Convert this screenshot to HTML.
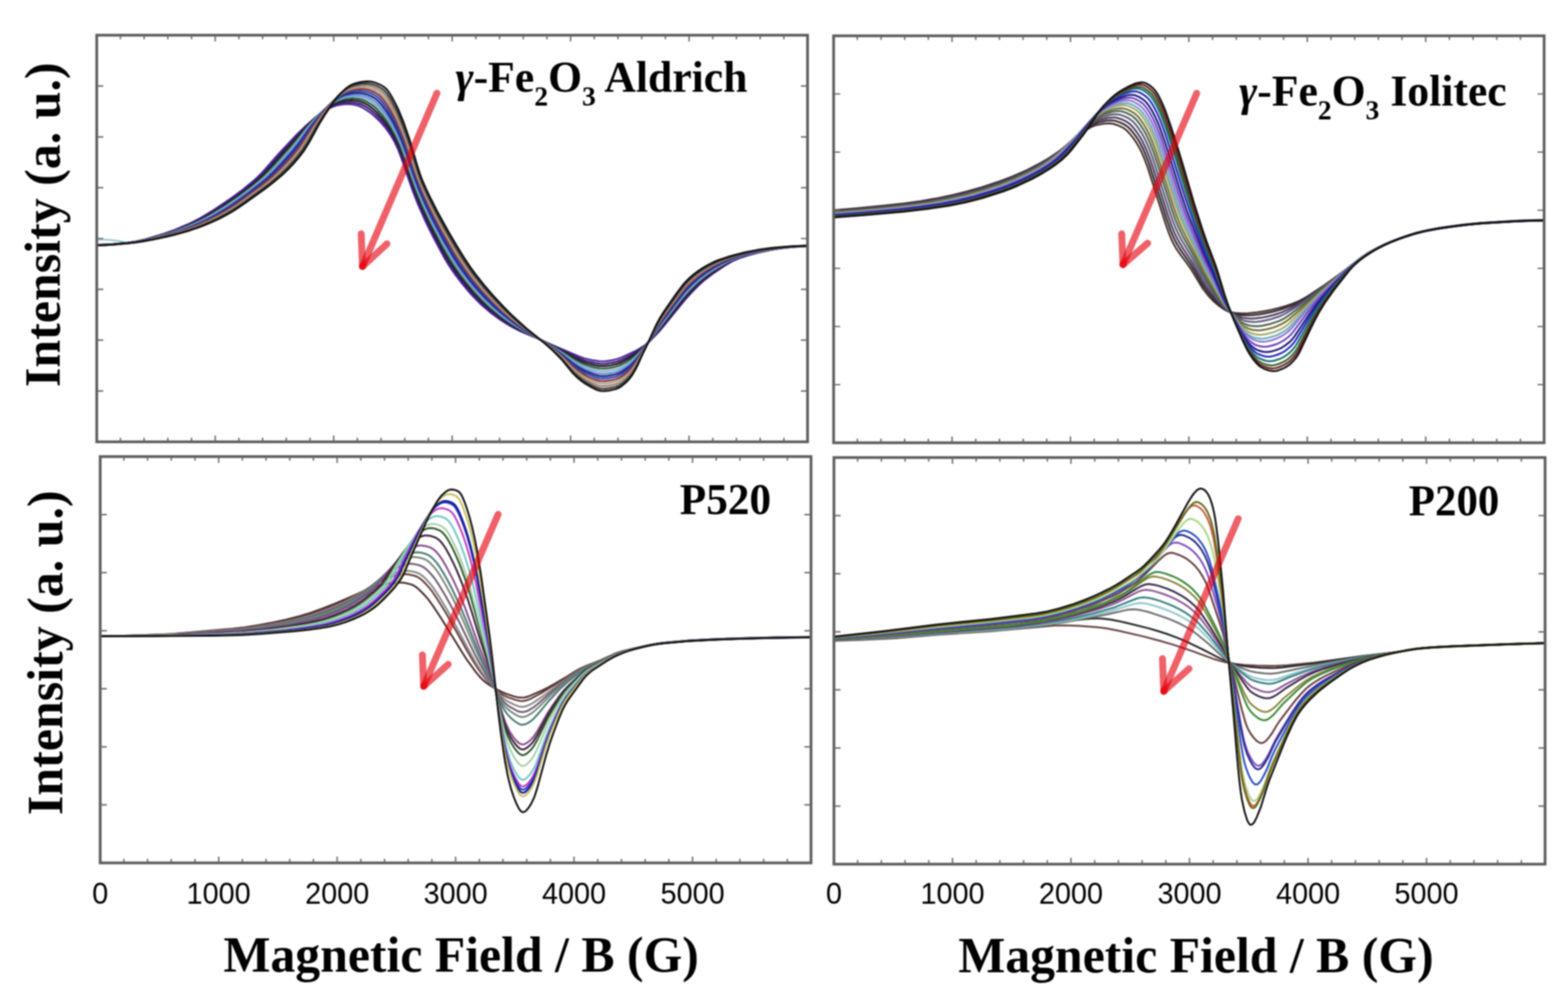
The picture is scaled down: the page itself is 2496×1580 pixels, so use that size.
<!DOCTYPE html>
<html><head><meta charset="utf-8"><title>EPR spectra</title>
<style>html,body{margin:0;padding:0;background:#fff;}svg{display:block;}#wrap{filter:blur(1px);}</style></head><body>
<div id="wrap"><svg width="2496" height="1580" viewBox="0 0 2496 1580">
<rect width="2496" height="1580" fill="#fff"/>
<defs>
<clipPath id="clipTL"><rect x="154" y="56" width="1131.5" height="647"/></clipPath>
<clipPath id="clipTR"><rect x="1327" y="57" width="1131" height="647.5"/></clipPath>
<clipPath id="clipBL"><rect x="159.5" y="726.5" width="1131.5" height="646.5"/></clipPath>
<clipPath id="clipBR"><rect x="1327.5" y="728" width="1132" height="647"/></clipPath>
</defs>
<path d="M155 381.5 C170 380.5 186 381.5 207 387.5" fill="none" stroke="#8cc8cc" stroke-width="2.6"/>
<g fill="none" stroke-width="3.0" stroke-linejoin="round" clip-path="url(#clipTL)">
<path d="M154 389.5l22 -0.8l28 -2.6l12 -1.8l14 -3.2l30 -8.9l18 -6.4l22 -9.3l10 -4.8l10 -5.3l20 -12.1l26 -17.5l20 -14.7l16 -13.1l8 -7.2l8 -8l26 -29.6l28 -29.7l16 -15.4l16 -13.7l6 -4.4l8 -5.3l6 -3.3l4 -1.8l6 -2.2l6 -1.5l6 -0.8l8 -0.5l8 0.6l6 1.3l4 1.3l6 2.9l10 6.5l8 6.5l10 9.8l8 9.3l8 11.4l6 10.3l6 12.9l6 16.2l16 46.5l10 25.6l12 26.9l12 24.3l16 30l6 10.2l6 9.4l8 11.3l8 10.4l10 12.2l8 9l14 14.2l14 12.1l16 11.8l8 5.2l10 5.9l14 7.2l22 9.2l34 15.2l36 15.2l10 3.7l12 2.8l12 1.8l6 0.2l4 -0.2l10 -1.5l8 -1.8l8 -2.8l20 -9.4l6 -3.2l6 -3.6l6 -4.3l6 -5.2l14 -14.2l8 -9.3l34 -41.8l12 -13.3l10 -10.2l10 -8.9l12 -9.2l20 -13.5l12 -7.1l12 -5.1l14 -4.5l16 -4.2l22 -4.7l12 -2l16 -1.7l14 -1.1l13.5 -0.4" stroke="#5028a0"/>
<path d="M154 389.6l22 -0.8l28 -2.6l14 -2.1l14 -3.2l28 -8.1l20 -6.9l12 -4.8l12 -5.3l10 -4.8l10 -5.3l22 -13.3l24 -16.2l20 -14.8l18 -14.9l8 -7.4l6 -6.2l24 -27.1l36 -39.3l16 -15.6l12 -10.3l8 -5.7l6 -3.8l4 -2.1l6 -2.5l6 -1.9l4 -0.8l8 -0.9l6 -0.2l8 0.9l8 2.2l4 1.7l4 2.2l8 5.4l8 6.8l10 10.5l8 10l6 8.8l6 10.3l6 12.4l6 15.7l16 46.4l6 16.1l12 28.2l14 29.2l16 30.5l8 14l6 9.6l6 8.8l10 13.4l8 10l10 11.6l14 14.5l14 12.5l16 12.2l8 5.5l10 6.2l14 7.6l24 10.8l64 30.8l8 3.6l8 3l14 3.4l10 1.4l8 -0.1l10 -1.5l8 -1.8l8 -3l16 -8.2l10 -6.2l6 -4.4l6 -5l6 -5.8l6 -6.4l12 -13.7l38 -47.2l10 -11l10 -10.1l10 -9l12 -9.2l20 -13.2l12 -7l6 -2.8l6 -2.4l14 -4.6l16 -4.2l22 -4.6l12 -2.1l16 -1.7l16 -1.3l13.5 -0.5" stroke="#401a78"/>
<path d="M154 389.7l22 -0.8l30 -2.8l14 -2.2l16 -3.8l28 -8l22 -7.7l12 -4.9l12 -5.4l10 -5l10 -5.5l22 -13.5l24 -16.4l20 -15.1l18 -15.2l8 -7.8l8 -8.6l32 -35.7l26 -29.7l14 -14.2l6 -5.6l6 -5l6 -4.5l6 -4l4 -2.2l6 -2.6l6 -1.9l4 -0.9l8 -1l6 -0.2l8 0.8l8 2.2l4 1.7l4 2.1l8 5.5l8 7.2l8 8.7l8 10.2l6 9l8 14.1l6 12.9l4 10.4l18 52l6 15.8l12 27.8l14 28.8l16 30.2l8 13.8l6 9.5l8 11.5l8 10.7l8 10l10 11.6l14 14.6l14 12.6l16 12.5l16 10.8l14 8.1l34 16.7l30 15.7l24 13.1l10 4.8l8 3l12 3.1l8 1.4l8 0.2l10 -1.2l10 -2.2l6 -2.2l12 -6.3l10 -6.3l6 -4.6l6 -5.3l6 -5.7l6 -6.4l18 -21.7l36 -45.5l8 -9.1l10 -10.3l12 -11l12 -9.2l16 -10.5l16 -9.3l10 -4.6l14 -4.8l16 -4.3l16 -3.5l16 -3l10 -1.4l24 -2.2l17.5 -0.7" stroke="#202020"/>
<path d="M154 389.7l22 -0.9l30 -2.7l14 -2.2l18 -4.1l28 -7.9l22 -7.6l12 -4.8l12 -5.3l10 -4.9l12 -6.5l22 -13.5l22 -15.1l22 -16.6l10 -8.2l8 -7.1l14 -14.2l28 -31.1l8 -9.2l18 -22.1l8 -9.1l12 -12.6l10 -9.3l6 -4.7l6 -4.2l4 -2.3l6 -2.7l6 -2l6 -1.3l6 -0.7l6 -0.3l8 0.7l8 2.1l6 2.6l8 5l4 3.2l4 3.8l8 8.9l8 10.4l6 9.1l8 14.2l6 12.7l6 15.6l14 40.9l8 21.6l12 28l12 25l18 34.1l8 14l6 9.7l8 11.8l8 10.9l8 10.2l10 11.9l14 14.9l14 13l16 13l16 11.3l16 9.6l24 12.4l26 14.3l14 8.1l24 14.5l10 4.9l8 3l10 2.8l8 1.6l8 0.3l8 -0.9l10 -2.1l6 -2l10 -5.1l10 -6.4l6 -4.8l6 -5.6l14 -15.2l52 -66.8l8 -9.5l10 -10.6l12 -11.3l12 -9.5l12 -8.1l18 -10.6l10 -5l12 -4.6l16 -4.8l16 -3.8l20 -3.8l12 -1.8l24 -2.2l19.5 -0.9" stroke="#2a5a3a"/>
<path d="M154 389.8l24 -1l32 -3.1l16 -2.8l20 -4.9l26 -7.4l12 -4.1l12 -4.5l12 -5l10 -4.6l10 -5.1l12 -6.7l20 -12.3l22 -15.2l22 -16.7l10 -8.2l8 -7.1l14 -14.2l28 -31.1l8 -9.7l16 -20.8l12 -14.1l12 -12.9l8 -7.4l6 -4.7l6 -4.1l4 -2.3l4 -1.8l6 -2l6 -1.4l6 -0.8l6 -0.3l8 0.7l8 2.1l4 1.6l4 2l6 3.9l6 5.2l8 8.9l8 10.5l6 9.2l8 14.4l8 17.2l4 10.4l14 41.1l8 21.8l10 23.8l14 29.5l18 34.2l14 24l8 12.1l8 11.2l8 10.5l10 12.1l14 15.3l14 13.4l16 13.4l16 11.8l16 10.2l28 15.4l22 12.9l14 8.8l16 11l8 5l10 5.3l10 3.9l10 3l8 1.4l6 0.1l8 -0.9l10 -2.1l6 -2l8 -4.2l10 -6.6l6 -5.1l6 -6l14 -16.5l16 -21.9l22 -29.1l18 -23.1l10 -11.4l12 -11.8l12 -10.1l12 -8.5l16 -9.6l14 -7.4l10 -4.2l14 -4.6l18 -4.5l20 -3.9l16 -2.5l26 -2.4l19.5 -0.9" stroke="#80b0d0"/>
<path d="M154 389.9l12 -0.3l14 -0.9l32 -3.2l18 -3.3l26 -6.4l12 -3.3l12 -3.8l12 -4.2l12 -4.7l10 -4.2l10 -4.7l10 -5.2l12 -6.7l20 -12.5l22 -15.5l24 -18.5l8 -6.7l8 -7.4l14 -14.4l22 -24.4l10 -12.3l16 -21.8l8 -10.1l14 -16.2l6 -6.3l4 -3.7l6 -4.9l6 -4.3l4 -2.4l4 -1.9l6 -2.1l6 -1.5l6 -0.9l6 -0.4l8 0.6l8 2l8 3.5l6 3.8l4 3.4l6 6.4l8 10.3l6 8.8l4 6.7l6 11.2l8 17.2l6 15.6l12 35.8l10 27.1l12 27.7l12 24.8l18 33.8l14 23.8l8 12.1l8 11.2l8 10.5l10 12.1l14 15.3l14 13.5l16 13.7l16 12.2l14 9.3l32 18.8l18 11.3l14 9.4l16 12.1l8 5.4l6 3.5l6 3.1l12 4.6l8 2.4l4 0.8l4 0.4l8 -0.4l10 -1.7l6 -1.5l6 -2.5l8 -4.7l8 -5.8l6 -5.6l8 -9.3l14 -18.5l14 -20.7l14 -19.2l22 -28.9l10 -12.1l10 -10.3l12 -10.8l12 -9l12 -7.6l16 -8.7l12 -5.6l14 -4.9l18 -4.8l20 -4.1l22 -3.5l26 -2.3l19.5 -0.9" stroke="#6a88d8"/>
<path d="M154 390l12 -0.3l14 -0.9l32 -3.1l20 -3.6l28 -6.8l12 -3.4l12 -3.8l12 -4.2l12 -4.6l10 -4.3l10 -4.7l10 -5.2l12 -6.7l10 -6.1l12 -7.9l24 -17.2l22 -17.2l8 -6.9l8 -7.6l16 -16.7l18 -20.3l8 -10.2l16 -22.9l10 -13.2l14 -16.7l6 -6.3l4 -3.7l6 -4.9l6 -4.3l4 -2.3l4 -1.8l6 -2l6 -1.4l6 -0.8l6 -0.3l6 0.5l8 2l8 3.4l6 3.7l4 3.4l6 6.6l8 10.8l6 9.3l4 7l6 11.8l8 18l6 16.2l12 36.3l8 21.6l10 23.5l12 25.2l18 34.2l16 27.6l8 12.3l8 11.4l8 10.7l10 12.4l14 15.7l14 13.9l16 14.2l16 12.7l14 9.8l34 21.1l16 10.6l14 10.1l18 14.7l8 5.6l6 3.6l6 3.1l14 5.4l8 2.1l6 0.5l8 -0.7l10 -1.9l6 -1.8l6 -2.9l8 -5.3l6 -4.8l6 -6.2l6 -7.5l16 -23l12 -19.1l8 -11.6l16 -21.9l20 -25.9l10 -10.9l12 -11.1l12 -9.3l12 -7.8l16 -8.7l14 -6.4l14 -5l18 -4.9l18 -3.7l24 -3.8l26 -2.4l21.5 -1" stroke="#1a2470"/>
<path d="M154 390.1l12 -0.3l14 -0.9l20 -1.8l14 -1.6l20 -3.7l30 -7.2l12 -3.4l12 -3.8l12 -4.2l12 -4.7l10 -4.3l10 -4.8l22 -11.9l10 -6.1l12 -8l28 -20.3l20 -15.8l8 -7.1l8 -7.8l16 -16.9l14 -16.1l8 -10.4l18 -26.8l10 -13.5l14 -17.2l4 -4.4l6 -5.7l10 -7.9l4 -2.4l4 -1.9l6 -2l6 -1.4l6 -0.9l6 -0.3l6 0.4l8 1.9l8 3.3l6 3.6l4 3.4l6 6.9l6 8.4l6 9.3l8 14.8l10 22.3l6 15.9l12 36.9l8 22l10 23.6l12 25.3l18 34.2l10 17.7l8 13.3l8 12.3l8 11.5l8 10.7l8 10l14 16l14 14.3l16 14.7l16 13.2l16 11.7l32 20.8l16 11.2l14 10.8l18 15.9l8 5.9l6 3.8l6 3.3l14 5.8l8 2.3l6 0.5l10 -1l10 -2.1l4 -1.4l6 -3.1l8 -5.6l6 -5.1l6 -6.7l6 -8.2l16 -24.9l12 -20.3l10 -15l12 -16.7l20 -26.4l8 -9.2l12 -11.5l12 -9.7l12 -8l14 -7.8l10 -4.8l8 -3.4l16 -5.5l16 -4.3l20 -4l24 -3.6l26 -2.3l21.5 -1" stroke="#2a44c0"/>
<path d="M154 390.1l12 -0.4l14 -0.9l20 -1.8l14 -1.6l22 -4l30 -7l12 -3.3l14 -4.4l12 -4.2l12 -4.7l20 -9.2l12 -6.3l10 -5.7l12 -7.5l12 -8.1l30 -22l18 -14.5l8 -7.3l8 -7.9l16 -17.1l12 -14.3l8 -11.1l16 -25.1l10 -14.1l14 -18l4 -4.6l6 -5.9l10 -8.2l4 -2.5l4 -2l6 -2.1l6 -1.5l6 -1l6 -0.4l6 0.4l8 1.9l8 3.3l6 3.5l4 3.4l4 4.5l6 8.3l6 9.4l8 14.7l10 22.5l8 21.5l12 37.6l6 16.6l8 19.3l12 25.7l8 15.9l10 18.7l10 17.9l10 16.9l8 12.6l8 11.7l8 11l8 10.2l14 16.4l14 14.7l16 15.2l16 13.8l16 12.2l34 23.3l14 10.4l14 11.5l18 17.2l8 6.3l6 4l6 3.5l8 3.7l8 3.2l4 1.2l4 0.8l6 0.2l8 -0.9l10 -2.2l6 -2.3l4 -2.3l6 -4.2l6 -5.1l6 -6.6l8 -11.6l16 -26.8l12 -21.5l6 -9.5l12 -17.4l20 -27.1l10 -12.1l10 -9.9l12 -10l12 -8.3l14 -8l8 -3.9l10 -4.3l16 -5.6l18 -4.9l20 -4l24 -3.5l28 -2.5l21.5 -1" stroke="#8a3030"/>
<path d="M154 390.2l26 -1.2l20 -1.7l14 -1.6l12 -1.9l12 -2.3l32 -7.4l24 -7.1l12 -4.1l12 -4.6l10 -4.3l12 -5.7l12 -6.3l10 -5.7l12 -7.6l12 -8.2l34 -25.1l10 -8l8 -7l16 -15.7l14 -15.4l10 -12.5l8 -11.9l14 -22.9l12 -17.5l14 -18.4l4 -4.6l6 -5.9l8 -6.7l4 -2.7l4 -2.1l6 -2.2l6 -1.6l6 -1.1l6 -0.5l6 0.3l8 1.8l8 3.2l6 3.5l4 3.4l4 4.6l6 8.6l6 9.9l8 15.4l10 23.6l6 16.3l12 38.2l6 17.3l8 19.5l10 21.6l8 16.1l10 18.9l20 35.2l8 13l10 15.1l8 11.2l8 10.4l14 16.7l14 15.1l16 15.7l16 14.3l18 14.3l32 22.9l14 10.9l14 12.2l16 16.4l4 3.7l6 4.8l8 5.5l6 3.4l10 4.7l6 2.4l6 1.4l6 0.2l8 -0.9l10 -2.2l6 -2.4l4 -2.3l6 -4.4l6 -5.4l6 -7.1l6 -9.1l18 -32.2l12 -22.8l6 -9.9l10 -14.9l18 -24.8l10 -12.9l4 -4.6l6 -6.1l12 -10.4l12 -8.5l14 -8.2l8 -3.9l8 -3.5l8 -3.1l10 -3.4l20 -5.5l22 -4.4l24 -3.4l28 -2.4l21.5 -1" stroke="#b0a088"/>
<path d="M154 390.3l26 -1.2l34 -3.3l24 -4.1l32 -7.1l12 -3.2l14 -4.2l12 -4.1l12 -4.6l10 -4.3l12 -5.7l12 -6.2l10 -5.7l12 -7.6l12 -8.2l36 -26.5l10 -8l8 -7l16 -15.7l12 -13.3l10 -12.7l8 -12.2l16 -27.1l10 -15.1l14 -19.1l4 -4.8l6 -6.1l6 -5.3l4 -3.1l4 -2.5l4 -1.9l6 -2l6 -1.5l6 -1l6 -0.3l6 0.5l6 1.5l8 3.2l6 3.4l4 3.3l4 4.6l4 5.8l6 9.9l8 15.3l4 9l6 14.9l8 22.2l12 39l4 11.8l8 19.9l10 21.5l8 16.1l10 18.9l20 35.2l10 16.4l8 12.2l8 11.5l8 10.6l14 17.1l14 15.5l16 16.2l16 14.9l20 16.6l30 22.4l14 11.5l14 12.9l16 17.5l4 4l6 5.1l6 4.5l6 3.8l10 5.1l8 3.5l6 1.5l6 0.2l8 -0.9l10 -2.2l6 -2.4l4 -2.4l6 -4.6l6 -5.6l6 -7.5l6 -9.8l10 -19.5l8 -14.8l12 -24l8 -13.5l10 -14.9l20 -27.6l10 -12.2l6 -6l6 -5.3l6 -4.8l8 -5.7l14 -8.4l8 -4l8 -3.5l18 -6.4l22 -6.1l22 -4.3l24 -3.3l28 -2.4l23.5 -1.2" stroke="#9a8070"/>
<path d="M154 390.4l14 -0.5l14 -0.9l22 -2l12 -1.4l26 -4.5l18 -3.8l14 -3.3l14 -3.8l12 -3.7l12 -4.1l10 -3.8l12 -5.1l12 -5.7l12 -6.2l10 -5.7l10 -6.4l12 -8.2l26 -18.8l14 -10.6l16 -13.5l8 -7.6l8 -8.2l10 -11.2l10 -12.8l8 -12.5l16 -28.1l10 -15.6l8 -11.6l8 -10.8l4 -4.7l6 -6l8 -6.9l4 -2.7l4 -2l6 -2.1l6 -1.5l6 -1l6 -0.4l6 0.5l6 1.4l8 3.1l6 3.3l4 3.2l4 4.7l4 5.9l4 6.8l6 11.1l4 8.4l8 19.6l6 16.4l4 12l14 46l6 16l8 17.9l8 16.5l10 19.4l10 18.3l10 17.5l10 16.8l10 15.9l10 14.8l8 10.8l14 17.4l14 15.9l16 16.8l16 15.5l10 8.9l12 10.1l28 21.7l14 12l14 13.5l16 18.6l4 4.2l6 5.4l6 4.7l6 4l10 5.4l8 3.7l6 1.6l6 0.3l8 -0.9l10 -2.2l6 -2.5l4 -2.5l6 -4.8l6 -5.9l4 -5l6 -9.7l20 -40.3l12 -25.2l6 -10.7l8 -12.6l22 -31.1l10 -12.7l6 -6.3l6 -5.4l6 -4.9l8 -5.7l8 -5l8 -4.4l14 -6.4l8 -2.9l10 -3.2l24 -6.4l22 -4.2l22 -2.9l28 -2.4l25.5 -1.3" stroke="#3a3a3a"/>
<path d="M154 390.5l12 -0.4l16 -1l22 -2l12 -1.4l12 -1.8l16 -2.9l18 -3.7l14 -3.3l26 -7.3l12 -4l10 -3.8l12 -5l12 -5.6l12 -6.1l10 -5.7l10 -6.4l12 -8.3l30 -21.6l12 -9.1l16 -13.5l8 -7.6l8 -8.3l10 -11.6l8 -10.6l8 -12.8l16 -29.2l10 -16.2l8 -12l8 -11.3l4 -4.9l6 -6.3l8 -7.1l4 -2.8l4 -2.2l4 -1.5l8 -2.2l6 -1.1l6 -0.5l6 0.4l6 1.4l8 3.1l6 3.2l4 3.1l2 2.1l4 5.4l4 6.6l6 11.2l4 8.2l8 19.5l10 28.6l12 40.7l4 12.6l4 10.9l6 13.8l8 16.6l10 19.6l18 32.6l14 23.8l10 16.2l10 15.1l8 11.1l14 17.8l14 16.3l16 17.3l16 16.1l22 19.9l28 22.6l14 12.5l14 14.2l16 19.7l4 4.4l6 5.6l6 4.9l6 4.2l10 5.7l8 3.9l6 1.7l6 0.3l8 -0.9l10 -2.3l6 -2.6l4 -2.6l6 -5l6 -6.2l4 -5.3l6 -10.3l4 -8.1l8 -18l8 -16.5l12 -26.5l6 -11.1l6 -9.8l20 -29l12 -15.9l4 -4.5l6 -5.9l6 -5.1l8 -6l8 -5.2l8 -4.5l8 -4l8 -3.4l16 -5.3l26 -6.8l20 -3.9l22 -3l30 -2.5l27.5 -1.4" stroke="#111111"/>
</g>
<g fill="none" stroke-width="3.0" stroke-linejoin="round" clip-path="url(#clipTR)">
<path d="M1327 334.4l36 -2.9l46 -4.4l30 -3.3l26 -3.5l24 -4.2l28 -5.9l22 -5.4l24 -6.9l28 -9.2l20 -7.6l24 -10.6l20 -10.3l16 -9.4l16 -10.7l10 -7.6l16 -14.2l6 -5l8 -5.5l10 -5.7l4 -1.7l4 -1.3l12 -2.4l8 -0.5l4 0.3l4 0.8l6 1.9l6 2.6l4 2.2l4 3.1l4 4l6 7.3l6 8.5l4 6.8l4 8l4 9l6 15.8l28 88.3l6 17l4 9.7l4 8.1l4 6.8l6 8.8l10 13.1l6 8.5l20 32.8l8 10.3l8 8.6l8 6.9l10 7l6 3.2l4 1.3l8 1.2l10 0.6l10 -0.3l14 -1.3l10 -1.6l12 -2.4l12 -2.8l12 -3.4l10 -3.4l10 -4.1l6 -3l8 -4.7l30 -19.8l28 -20.1l28 -21.8l12 -8l14 -7.5l16 -7.2l22 -8.4l18 -6l16 -4.3l22 -4.3l24 -3.6l30 -3.6l20 -1.7l46 -2.8l26 -1.1l25 -0.4" stroke="#4a2e2e"/>
<path d="M1327 335.2l38 -3l48 -4.6l30 -3.4l26 -3.6l26 -4.7l28 -6.1l22 -5.6l24 -7.1l26 -8.8l20 -7.8l22 -10l20 -10.6l14 -8.7l16 -11.3l12 -9.6l16 -14.7l8 -6.8l8 -5.5l10 -5.7l8 -3l12 -2.6l8 -0.5l4 0.4l4 0.9l6 2.1l6 2.8l4 2.4l4 3.3l4 4.2l6 7.7l4 5.8l4 6.7l4 7.9l4 9l6 15.6l28 88.2l6 17.1l4 9.8l4 8.3l4 7.1l6 9.3l14 20.1l6 9.9l10 17.5l6 9.5l8 10.6l8 9.1l8 7.8l10 8l6 3.4l10 3.5l8 1.8l8 0.5l10 -0.3l10 -1l10 -1.7l12 -2.6l10 -2.6l8 -2.6l12 -4.7l10 -4.5l8 -4.3l8 -4.9l28 -19.1l32 -23.4l26 -20.3l12 -8.1l14 -7.5l14 -6.4l18 -7.1l20 -7l18 -5.1l20 -4.1l24 -3.8l30 -3.7l22 -2l44 -2.7l30 -1.3l25 -0.4" stroke="#2e2e2e"/>
<path d="M1327 336l38 -3l50 -4.8l30 -3.4l26 -3.6l28 -5l28 -6.2l24 -6.3l24 -7.3l24 -8.3l20 -8.1l22 -10.4l18 -9.9l14 -9.2l18 -13.6l10 -8.5l16 -15.3l10 -8.6l8 -5.6l8 -4.7l8 -3.4l12 -3l8 -0.9l4 0.2l4 0.7l6 1.9l6 2.7l4 2.3l4 3.1l4 4.1l6 7.6l6 9l4 7.1l6 12.9l6 15.4l6 18.1l22 70l6 17.3l4 10l4 8.5l4 7.4l6 9.8l14 21.5l16 28.5l6 9.6l8 10.9l10 12.2l8 8.4l8 6.9l4 2.6l8 4.5l8 3.9l4 1.3l4 0.8l10 0.8l8 -0.3l8 -1l10 -1.9l10 -2.5l8 -2.4l6 -2.2l8 -3.6l10 -5.1l12 -6.8l14 -9.4l32 -23.3l26 -19.7l24 -18.7l10 -6.9l12 -6.8l14 -6.7l16 -6.6l20 -7.2l20 -6l18 -4l24 -4.1l32 -4.2l24 -2.3l42 -2.7l32 -1.4l27 -0.5" stroke="#503a60"/>
<path d="M1327 336.9l40 -3.1l50 -4.8l32 -3.6l26 -3.7l28 -5.1l28 -6.2l24 -6.4l26 -8.1l24 -8.7l20 -8.5l20 -9.8l10 -5.5l8 -4.9l14 -9.9l16 -12.9l10 -9l16 -16l10 -9l8 -6l8 -5l6 -3l4 -1.6l12 -3.3l8 -1l4 0.1l4 0.7l6 2l6 2.8l4 2.4l4 3.2l4 4.3l4 5.1l6 8.9l4 6.9l4 8.1l4 9.3l6 16.1l26 82.2l6 17.6l4 10.3l4 8.9l6 11.5l16 26.6l16 29.5l8 13.4l10 14.3l10 13.2l8 9.1l6 5.5l14 10.5l4 2.6l4 2l4 1.4l4 0.9l4 0.6l6 0.4l6 -0.2l6 -0.7l8 -1.5l8 -1.9l14 -4.6l10 -4.8l18 -11l14 -9.7l34 -26l50 -38.9l14 -10l12 -6.9l14 -6.8l14 -5.8l18 -6.6l20 -6.3l18 -4.3l24 -4.3l32 -4.3l26 -2.6l40 -2.6l34 -1.6l29 -0.6" stroke="#5a5a78"/>
<path d="M1327 337.9l42 -3.3l52 -4.9l32 -3.6l26 -3.7l28 -5.1l28 -6.3l26 -7.2l26 -8.4l22 -8.2l20 -8.8l12 -5.9l10 -5.4l8 -4.7l8 -5.2l14 -10.6l16 -13.8l10 -9.7l16 -16.7l8 -7.5l8 -6.4l8 -5.3l6 -3.3l4 -1.8l6 -2.1l6 -1.7l6 -1.2l4 -0.4l4 0.1l4 0.7l6 2.1l6 3l4 2.5l4 3.4l4 4.5l4 5.4l6 9.3l4 7.3l6 13.2l6 15.8l6 18.2l22 70l6 17.3l4 10l8 16.7l16 28.6l14 27.1l8 14.2l18 27.6l8 11l6 6.9l16 15.3l4 3.5l4 2.9l6 2.9l4 1.3l4 0.9l8 0.7l4 -0.1l6 -0.7l14 -3.1l12 -4.1l6 -2.7l4 -2.2l8 -5.4l18 -13.4l64 -52.1l26 -20.2l12 -8.8l10 -6.4l14 -7.3l14 -6.2l16 -6.2l22 -7.4l18 -4.8l24 -4.6l28 -4l30 -3.4l34 -2.4l42 -2.2l33 -0.7" stroke="#506050"/>
<path d="M1327 338.7l42 -3.2l54 -5.1l32 -3.6l28 -4.1l30 -5.6l26 -6l26 -7.3l26 -8.5l22 -8.4l20 -9.1l20 -10.5l8 -4.8l8 -5.3l12 -9.3l18 -16.2l10 -10.1l16 -17.4l8 -7.7l8 -6.7l10 -6.8l10 -5.1l6 -2.2l6 -1.8l6 -1.2l4 -0.4l4 0.1l4 0.8l6 2.2l6 3.2l4 2.7l4 3.7l4 4.8l6 8.8l4 6.8l4 7.8l6 14l6 16.5l26 82.3l6 17.5l4 10.3l4 9.1l6 12.3l14 26.4l16 31.9l8 14l16 26.4l8 11.9l4 5l20 22.3l6 5.2l4 2.4l4 2l4 1.4l4 0.9l8 0.7l4 -0.2l6 -0.9l8 -1.8l6 -1.7l6 -2.2l6 -2.7l8 -4.6l6 -4.6l14 -12l34 -30l34 -29.1l30 -23.5l12 -8.5l12 -7.1l14 -6.9l16 -6.7l24 -8.5l20 -5.7l22 -4.5l26 -4l30 -3.6l26 -2.1l52 -3l39 -1" stroke="#707038"/>
<path d="M1327 339.5l44 -3.4l54 -5.1l32 -3.7l28 -4.1l28 -5.2l26 -6l28 -7.9l26 -8.6l22 -8.6l20 -9.2l20 -10.7l8 -4.9l8 -5.4l12 -9.7l18 -16.9l10 -10.5l16 -18.1l8 -8l8 -7l10 -7.2l6 -3.5l6 -2.8l6 -2.3l6 -1.8l6 -1.2l4 -0.4l4 0.2l4 0.9l4 1.5l6 3.1l4 2.6l4 3.4l4 4.6l4 5.6l6 9.9l4 7.7l6 13.8l6 16.4l28 88.5l6 17.1l4 10l8 17.6l12 24l16 33.2l6 11.2l20 35.5l6 9.7l4 5.6l8 10l12 15.9l6 6.5l6 4.6l6 3.4l6 1.9l8 1l4 -0.1l6 -0.9l12 -3.1l10 -4l6 -3.2l4 -2.6l4 -3.2l4 -3.7l30 -29.9l16 -15.2l32 -29l10 -8.5l22 -17.1l16 -11.1l8 -4.6l8 -4.1l18 -8l24 -8.8l20 -6l10 -2.4l12 -2.4l26 -4.2l32 -4l24 -2.1l54 -3.1l22 -0.8l19 -0.3" stroke="#a8a868"/>
<path d="M1327 340.2l44 -3.3l56 -5.2l34 -3.9l28 -4.1l28 -5.2l26 -6.1l30 -8.7l24 -8.2l20 -8l20 -9.3l20 -10.9l8 -5l8 -5.5l12 -9.9l18 -17.5l10 -10.9l16 -18.8l8 -8.3l10 -8.8l8 -5.8l6 -3.6l6 -3l6 -2.4l6 -2l6 -1.4l4 -0.5l4 0l4 0.7l6 2.3l6 3.4l4 2.9l4 3.9l4 5.1l4 6.1l4 6.8l4 7.7l6 13.9l6 16.4l28 88.6l6 17.3l4 10.2l8 18.2l26 55.3l30 56.9l6 9.6l8 11.1l10 14.8l6 8l4 4.2l6 4.9l6 3.6l6 2l8 1.1l4 -0.1l6 -0.9l12 -3.3l4 -1.5l6 -2.9l8 -4.9l4 -3.2l4 -3.9l28 -30.7l14 -14.4l14 -13.6l30 -27.7l22 -17.4l16 -11.3l6 -3.7l8 -4.4l8 -3.9l10 -4.4l12 -4.8l12 -4.3l12 -3.9l10 -2.9l20 -4.6l26 -4.4l32 -4.1l26 -2.4l56 -3.3l22 -0.8l19 -0.3" stroke="#6aaac0"/>
<path d="M1327 340.9l44 -3.3l56 -5.2l34 -3.9l30 -4.4l28 -5.2l26 -6.2l16 -4.5l16 -4.9l24 -8.4l22 -9.1l20 -9.8l10 -5.5l10 -6l8 -5.3l6 -4.5l12 -10.6l16 -16.2l10 -11.2l16 -19.4l6 -6.5l10 -9.4l10 -7.7l6 -3.8l6 -3.1l8 -3.4l6 -2l6 -1.4l4 -0.4l4 0.1l4 0.9l4 1.6l6 3.3l4 2.8l4 3.7l4 5l4 6.1l6 10.6l4 8.3l4 9.6l6 16.4l8 24.6l20 64l4 11.9l6 16.1l8 18.9l24 53.2l16 31.6l10 20.9l6 11.6l4 6.8l20 31.3l6 8.3l4 4.3l6 5.2l6 3.7l4 1.5l4 1l4 0.6l4 0.2l4 -0.3l6 -1.2l6 -1.7l6 -2.1l8 -4l8 -5.4l4 -3.5l4 -4.3l26 -31.2l12 -13.3l16 -16.4l30 -28.9l18 -14.6l18 -13l14 -8.4l8 -4.1l10 -4.6l12 -4.9l12 -4.4l22 -7l20 -4.7l26 -4.5l34 -4.4l26 -2.4l56 -3.3l22 -0.8l19 -0.3" stroke="#8a78d0"/>
<path d="M1327 341.7l46 -3.5l58 -5.3l34 -3.9l30 -4.5l28 -5.3l26 -6.3l30 -8.9l12 -4l12 -4.4l22 -9.2l20 -9.9l10 -5.5l10 -6.1l8 -5.4l6 -4.5l6 -5.1l6 -5.7l18 -19l8 -9.4l16 -20.2l6 -6.8l6 -6l6 -5.5l10 -7.7l6 -3.7l6 -3.1l8 -3.5l6 -2.1l6 -1.4l4 -0.4l4 0.2l4 1l4 1.7l6 3.5l4 3l4 4l4 5.4l4 6.5l4 7.3l4 8.3l6 14.7l6 17.1l28 89l4 11.8l6 16.1l8 19.5l20 46.5l16 33.3l12 27l6 12.2l24 41.4l4 6.1l4 5.1l4 4.2l4 3.7l6 4l4 1.6l4 1.1l4 0.8l4 0.3l4 -0.3l6 -1.2l6 -1.8l6 -2.2l8 -4.3l8 -5.9l4 -3.9l4 -4.8l24 -32.2l12 -14.7l18 -19.7l28 -28.3l6 -5.4l10 -8.1l10 -7.6l8 -5.6l14 -8.7l16 -8.1l12 -5.1l12 -4.6l12 -4.1l12 -3.7l20 -4.9l26 -4.6l34 -4.5l26 -2.4l56 -3.3l22 -0.8l21 -0.3" stroke="#7040c0"/>
<path d="M1327 342.5l46 -3.4l58 -5.3l36 -4.2l30 -4.5l28 -5.3l26 -6.4l32 -9.6l12 -4.1l12 -4.6l20 -8.5l20 -10l10 -5.6l10 -6.1l8 -5.5l6 -4.6l6 -5.2l6 -5.8l18 -19.7l8 -9.6l16 -20.9l8 -9.3l10 -9.7l10 -8.1l6 -3.9l6 -3.3l8 -3.7l6 -2.3l6 -1.7l4 -0.6l4 -0.1l4 0.7l6 2.5l6 3.8l4 3.3l4 4.4l4 5.8l4 6.9l4 7.7l4 8.8l4 10.1l6 17l8 24.8l20 64.5l6 17.9l6 16.3l24 59.1l16 35l14 33.7l6 12.7l24 44.9l4 6.5l4 5.4l4 4.6l4 4l6 4.4l4 1.8l4 1.3l4 0.9l4 0.4l4 -0.1l6 -1.1l6 -1.8l6 -2.3l4 -2l4 -2.5l8 -6.3l4 -4.2l4 -5.2l24 -36l12 -16.1l18 -21l26 -27.8l6 -5.8l6 -5.2l10 -7.9l8 -5.8l16 -10.3l8 -4.4l8 -4l10 -4.4l12 -4.7l14 -5l12 -3.8l20 -5l26 -4.7l34 -4.5l28 -2.7l56 -3.3l22 -0.8l21 -0.3" stroke="#1a1a78"/>
<path d="M1327 343.4l48 -3.5l58 -5.3l36 -4.2l32 -4.8l28 -5.4l26 -6.5l32 -9.8l12 -4.2l12 -4.7l22 -9.7l20 -10.5l10 -5.9l8 -5.1l8 -5.7l6 -4.8l6 -5.5l6 -6.2l18 -20.6l8 -10.1l16 -21.8l6 -7.3l6 -6.3l6 -5.7l10 -8.2l6 -4l6 -3.3l8 -3.9l6 -2.4l6 -1.8l4 -0.7l4 -0.1l4 0.7l4 1.5l6 3.6l4 3.1l4 4l4 5.4l4 6.8l4 7.7l4 8.6l6 15.3l6 17.5l30 96.2l12 34.3l18 46.6l18 41.8l14 36.8l6 13.4l14 28.7l12 22.8l6 8.7l6 7l6 5.3l4 2.3l8 2.9l4 0.8l4 0.3l4 -0.3l4 -0.8l6 -1.9l6 -2.4l4 -2.1l4 -2.6l8 -6.8l4 -4.5l4 -5.7l22 -36.3l6 -9.3l6 -8.5l8 -10.4l10 -12.1l26 -29.2l6 -6.2l6 -5.5l8 -6.6l8 -6l16 -10.6l8 -4.6l8 -4.1l10 -4.6l12 -4.9l14 -5.1l12 -3.8l20 -5.2l26 -4.8l34 -4.6l28 -2.8l58 -3.5l22 -0.8l21 -0.3" stroke="#2626c0"/>
<path d="M1327 344.2l50 -3.7l58 -5.2l38 -4.4l32 -4.8l28 -5.5l26 -6.7l32 -10l12 -4.3l12 -4.8l20 -9l20 -10.6l10 -5.9l8 -5.2l8 -5.8l6 -4.9l6 -5.6l6 -6.3l18 -21.3l8 -10.3l14 -19.8l8 -10.4l10 -10.6l6 -5.6l6 -4.9l6 -4.2l6 -3.5l8 -4.1l8 -3.4l6 -1.8l4 -0.7l4 -0.1l4 0.8l4 1.7l6 3.8l4 3.3l4 4.4l4 5.9l4 7.2l4 8.1l4 9.2l6 16.1l6 17.9l8 25.2l22 71.9l6 18.2l8 22.7l14 37.5l16 38.7l16 44.7l6 14l14 30.5l8 16.4l4 7.4l6 8.9l6 7.2l6 5.5l4 2.4l8 3.1l4 0.9l4 0.4l4 -0.3l4 -0.8l6 -1.9l6 -2.5l4 -2.2l4 -2.8l4 -3.3l4 -3.9l4 -4.8l4 -6.1l20 -36l6 -10.3l6 -9.5l6 -8.6l8 -10.6l16 -19.6l18 -20.7l6 -6.1l6 -5.3l8 -6.4l10 -7.2l12 -7.6l10 -5.6l10 -4.9l10 -4.3l14 -5.3l14 -4.7l12 -3.5l10 -2.4l12 -2.5l14 -2.5l34 -4.7l30 -3l58 -3.5l22 -0.8l21 -0.3" stroke="#1a7070"/>
<path d="M1327 344.8l50 -3.6l60 -5.4l38 -4.4l32 -4.8l28 -5.5l26 -6.8l32 -10l12 -4.4l12 -4.9l20 -9.1l20 -10.8l10 -6l8 -5.3l8 -5.9l6 -5l6 -5.7l6 -6.4l18 -21.8l8 -10.5l14 -20.2l8 -10.6l10 -10.7l6 -5.6l6 -5l6 -4.3l6 -3.5l10 -5.1l6 -2.6l6 -1.9l4 -0.8l4 -0.2l4 0.6l4 1.6l6 3.8l4 3.3l4 4.3l4 5.9l4 7.3l4 8.3l4 9.3l6 16.3l8 24.1l30 98.1l8 24.2l8 23l8 21.8l16 40l12 35.8l6 16.5l12 28.3l12 26.4l6 12.2l4 6.8l6 8.3l6 6.8l4 3.4l6 3.4l8 2.8l6 0.9l4 -0.2l4 -0.8l6 -2l6 -2.6l4 -2.3l4 -2.9l4 -3.6l4 -4.2l4 -5.1l4 -6.5l16 -31.1l8 -14.9l6 -10.4l6 -9.3l6 -8.5l16 -20.9l22 -26.3l4 -4.2l6 -5.6l8 -6.6l10 -7.2l10 -6.4l10 -5.7l10 -5.1l10 -4.4l14 -5.5l14 -4.8l12 -3.6l10 -2.5l12 -2.5l14 -2.5l36 -5l30 -3l58 -3.5l22 -0.8l21 -0.3" stroke="#3a6030"/>
<path d="M1327 345.3l50 -3.6l60 -5.4l38 -4.4l32 -4.8l26 -5l26 -6.6l16 -4.8l18 -5.8l12 -4.3l12 -4.8l22 -10.1l10 -5.2l10 -5.7l10 -6.1l8 -5.3l8 -6l6 -5.1l6 -5.8l6 -6.6l18 -22.3l8 -10.8l14 -20.7l8 -10.8l4 -4.7l6 -6.2l6 -5.7l6 -5.1l6 -4.4l6 -3.6l10 -5.2l8 -3.5l6 -1.8l4 -0.6l4 0.1l4 1l4 2l4 2.7l4 3.3l4 4.3l4 6l4 7.4l4 8.4l4 9.5l6 16.5l10 30.5l10 32.5l18 60.6l8 25l8 23.7l8 22.2l14 36l4 11.8l10 31.9l4 11.4l12 29.7l12 27.2l6 12.7l4 7.2l8 11.4l6 6.7l4 3.3l6 3.2l8 2.8l6 0.8l4 -0.3l4 -0.9l6 -2.1l6 -2.8l6 -3.9l4 -3.5l4 -4.1l4 -4.9l4 -6.3l22 -44.2l10 -18.3l10 -15.4l16 -21.7l22 -27.1l4 -4.5l6 -5.9l8 -6.8l8 -6l10 -6.5l12 -6.9l10 -5.1l10 -4.5l14 -5.5l14 -4.8l12 -3.6l10 -2.5l12 -2.5l14 -2.5l36 -5l30 -3l58 -3.5l22 -0.8l21 -0.3" stroke="#6a2020"/>
<path d="M1327 345.9l52 -3.8l60 -5.4l38 -4.4l34 -5.1l26 -5.1l14 -3.5l14 -3.9l32 -10.2l12 -4.5l12 -5l20 -9.3l10 -5.3l10 -5.8l10 -6.2l8 -5.4l8 -6.1l6 -5.1l6 -5.9l6 -6.7l18 -22.8l8 -11l14 -21.2l8 -11.1l4 -4.8l6 -6.3l6 -5.8l6 -5.2l6 -4.5l6 -3.7l10 -5.4l8 -3.6l6 -1.9l4 -0.7l4 -0.1l4 0.9l4 1.9l4 2.7l4 3.4l4 4.3l4 6l4 7.6l4 8.6l4 9.6l8 22.7l10 30.9l10 33l18 61.7l14 43.7l6 17.1l14 37.1l4 12.2l10 33.5l6 17.6l10 25.5l14 32.5l6 12.6l4 6.9l6 8.7l6 7.2l4 3.6l2 1.4l6 3.1l8 2.7l6 0.7l4 -0.3l4 -1l6 -2.2l6 -2.9l6 -4.2l4 -3.7l4 -4.4l4 -5.3l4 -6.8l16 -34l8 -16.3l6 -11.4l10 -16.3l16 -22.5l22 -27.9l6 -6.8l4 -4l8 -6.9l8 -6l10 -6.5l10 -5.8l12 -6.2l10 -4.5l12 -4.7l14 -4.9l12 -3.7l10 -2.6l12 -2.6l14 -2.6l34 -4.8l32 -3.4l60 -3.6l22 -0.8l21 -0.3" stroke="#111111"/>
</g>
<g fill="none" stroke-width="3.0" stroke-linejoin="round" clip-path="url(#clipBL)">
<path d="M159.5 1012l28 -0.3l30 -0.7l36 -1.2l20 -1.1l96 -8.1l20 -2.3l22 -3.5l24 -4.5l20 -4.4l22 -5.6l16 -4.9l18 -6.4l22 -8.5l32 -13.9l18 -8.3l6 -2.4l6 -1.9l14 -3.6l16 -2.8l10 -0.9l8 0.6l10 2.3l4 1.5l4 2.4l4 3.2l6 5.7l6 6.3l4 4.7l8 11l14 21.3l32 52.1l8 12.4l14 19.2l6 7.2l4 4.2l6 5.2l6 4.3l8 4.8l10 5.3l8 3.4l12 4.1l6 1.5l6 0.7l6 -0.4l6 -1.7l22 -9.7l10 -5l12 -6.7l14 -8.2l16 -10.2l8 -4.4l10 -4.4l22 -8.5l24 -10.9l8 -2.8l8 -2.1l40 -8.8l12 -2.2l14 -1.6l34 -2.9l30 -1.7l34 -1.5l34 -1.1l54 -1.2l43.5 -0.6" stroke="#4a3030"/>
<path d="M159.5 1012l40 -0.5l50 -1.4l20 -0.9l24 -1.6l68 -5.3l24 -2.4l28 -4l32 -5.8l20 -4.4l18 -4.6l14 -4.2l16 -5.6l24 -9.7l18 -8.6l20 -10.6l20 -12.7l10 -5.2l8 -3.6l12 -4.2l10 -2.5l8 -0.8l6 0.4l10 2.2l4 1.5l4 2.3l4 3.1l6 5.8l6 6.7l4 5.1l8 11.8l14 22.5l18 31.7l16 29.1l10 16.8l6 9.4l6 8.6l4 5.2l6 7.1l6 6.3l12 11.1l4 3.4l4 2.7l6 2.9l14 4.8l6 1.3l4 0.2l6 -0.9l6 -2.2l18 -9.4l20 -12.1l34 -22l10 -5.6l8 -3.6l22 -8.8l24 -11l10 -3.4l12 -3l34 -7.4l12 -2.2l14 -1.6l36 -3.1l40 -2.1l42 -1.6l62 -1.5l49.5 -0.7" stroke="#6a4040"/>
<path d="M159.5 1012.1l46 -0.6l56 -1.6l28 -1.6l66 -5l26 -2.3l20 -2.4l26 -4.1l26 -4.9l20 -4.5l18 -4.8l16 -5.3l18 -6.8l20 -8.7l24 -12.6l10 -6l12 -8.9l8 -5.4l10 -5.9l10 -5.1l10 -3.9l10 -2.7l6 -0.7l8 0.5l6 1.2l4 1.2l4 1.7l4 2.6l4 3.4l4 4l6 6.8l4 5.2l10 15.2l12 19.9l16 29.1l18 34.2l12 21.3l10 15.5l12 15.7l8 9.1l10 12.2l6 5.7l6 3.9l10 5l6 2.2l6 0.8l4 -0.5l4 -1.2l4 -1.8l6 -3.4l12 -8.2l30 -22l20 -14.1l8 -5.3l6 -3.5l10 -4.8l20 -8.3l24 -11.1l8 -2.8l10 -2.7l36 -8l12 -2.3l16 -1.9l34 -2.9l38 -2.1l44 -1.7l64 -1.6l49.5 -0.7" stroke="#8a8a8a"/>
<path d="M159.5 1012.1l48 -0.6l58 -1.6l30 -1.7l70 -4.9l26 -2.5l24 -3.2l30 -4.9l26 -5.3l18 -4.5l16 -4.9l20 -7.4l18 -7.8l8 -4l10 -5.6l12 -7.1l8 -5.2l6 -4.7l10 -9.1l8 -6.5l12 -8.9l10 -6.3l10 -4.8l8 -2.6l6 -0.9l4 0l4 0.5l6 1.3l4 1.3l4 1.9l4 2.8l4 3.6l6 6.5l4 5l6 8.8l12 19.9l10 18.3l12 23.6l24 50l8 15.2l14 23.4l10 15.1l8 13.3l4 5.9l2 2.5l4 4.1l4 3.1l4 2.6l10 5.5l4 1.3l4 0.4l4 -0.5l4 -1.4l4 -2l6 -3.8l8 -6.5l16 -14.1l20 -16.6l20 -15l10 -6.7l10 -5.4l22 -9.5l22 -10.4l8 -3.1l10 -2.9l36 -8.2l14 -2.7l16 -1.9l34 -2.9l38 -2.1l44 -1.7l64 -1.6l49.5 -0.7" stroke="#705a70"/>
<path d="M159.5 1012.1l48 -0.5l60 -1.5l34 -1.8l70 -4.6l30 -2.9l30 -4.1l30 -5.2l26 -5.7l16 -4.5l18 -6.3l18 -7.4l14 -6.9l20 -12.1l8 -5.3l6 -4.5l6 -5.5l12 -12.7l12 -11.2l10 -8.6l8 -5.7l6 -3.5l4 -1.9l8 -2.7l6 -0.7l8 0.9l6 1.6l4 1.7l4 2.5l4 3.4l6 6.6l4 5.2l6 9.1l6 10.1l12 22.1l12 24.9l6 13.3l20 46.6l8 17.3l14 27.8l10 18.8l6 12.6l4 7.2l2 3l4 4.9l6 5.1l8 5.4l4 2.3l4 1.6l4 0.6l4 -0.6l4 -1.5l6 -3.4l4 -2.9l8 -7.3l16 -16.1l18 -16.6l18 -14.5l14 -10.1l6 -3.6l6 -3.1l20 -8.9l20 -9.7l8 -3.3l10 -3.1l38 -8.8l14 -2.7l16 -1.9l34 -2.9l38 -2.1l44 -1.7l64 -1.6l49.5 -0.7" stroke="#7a8a7a"/>
<path d="M159.5 1012.2l50 -0.5l60 -1.4l38 -1.9l68 -4.3l32 -3.2l32 -4.4l30 -5.2l26 -5.9l16 -4.8l20 -7.4l16 -7.2l14 -7.7l18 -11.8l6 -4.3l6 -4.8l6 -6l12 -14l14 -14.6l8 -7.6l8 -6.5l6 -4l4 -2.2l8 -3l6 -0.8l4 0.2l4 0.7l8 2.4l4 2.1l4 3.1l4 4l4 4.8l4 5.5l6 9.6l8 14.2l6 11.5l12 25.6l8 18.7l24 60l24 53.1l10 24.9l4 8.2l2 3.4l4 5.6l4 4.3l4 3.7l6 4.8l4 2.5l4 1.4l2 0.2l4 -0.6l4 -1.7l6 -3.9l4 -3.4l8 -8.8l16 -19.4l18 -19.2l12 -10.9l18 -14.3l8 -5.4l8 -4.3l18 -8.3l20 -9.8l6 -2.6l8 -2.8l18 -4.7l24 -5.4l12 -2.4l16 -2l34 -3l38 -2.1l44 -1.7l64 -1.6l51.5 -0.7" stroke="#4a7a7a"/>
<path d="M159.5 1012.2l50 -0.5l62 -1.4l46 -2.2l62 -3.7l34 -3.3l36 -4.9l30 -5.3l14 -3.1l10 -2.6l18 -5.8l18 -7.1l16 -7.7l12 -7.2l18 -12.7l6 -4.7l6 -5.4l4 -4.4l14 -18.2l16 -18.9l8 -8.4l8 -7l4 -3l4 -2.5l4 -1.9l4 -1.5l4 -0.8l4 -0.1l8 1.4l6 2.1l4 2.3l4 3.4l6 7l4 5.7l6 10.1l12 23l8 17.6l10 24.3l24 66.5l14 34.3l10 27.9l12 41.7l6 16.7l6 12.4l6 9.1l4 4.7l4 3.8l2 1.3l2 0.9l2 0.4l2 -0.1l2 -0.6l4 -2.2l6 -5l4 -4.5l6 -9.1l16 -28.2l8 -12.2l10 -14.1l6 -7.7l6 -6.6l6 -5.9l18 -16.3l4 -3.2l6 -4l8 -4.4l28 -14.4l8 -3.8l6 -2.4l10 -3.3l10 -2.7l24 -5.6l12 -2.4l16 -2.2l34 -3l38 -2.2l46 -1.8l64 -1.6l51.5 -0.7" stroke="#8a4a8a"/>
<path d="M159.5 1012.2l54 -0.5l64 -1.3l54 -2.3l52 -2.9l38 -3.6l38 -5l30 -5.3l14 -3.1l10 -2.7l10 -3.3l10 -3.7l10 -4.1l8 -3.7l14 -7.6l8 -5.3l8 -5.9l14 -11.2l6 -5.6l4 -4.3l4 -5.2l12 -18.3l18 -25l8 -10l8 -8.4l4 -3.6l4 -3l4 -2.3l4 -1.8l4 -1.1l4 -0.2l4 0.5l4 0.9l6 2.2l4 2.5l4 3.7l4 5l4 6.1l6 10.8l6 11.9l6 13.1l8 19.8l8 22l8 24.9l14 46.2l12 35.9l10 34.4l10 40.4l6 20.1l2 5.4l4 9.1l4 7.4l4 6.1l4 5.1l4 4.1l2 1.5l2 1l2 0.4l2 -0.1l2 -0.6l4 -2.3l6 -5.4l4 -4.9l6 -9.9l16 -30.6l8 -13.2l14 -20.7l6 -7.4l6 -6.3l18 -17.2l6 -5.1l4 -2.9l8 -4.8l28 -14.8l8 -3.9l6 -2.6l10 -3.5l12 -3.4l22 -5.2l12 -2.5l16 -2.3l34 -3l36 -2.2l48 -1.9l66 -1.6l51.5 -0.7" stroke="#3a203a"/>
<path d="M159.5 1012.3l58 -0.5l64 -1.1l62 -2.3l44 -2.4l40 -3.7l40 -5.2l16 -2.6l16 -3.1l12 -2.8l10 -2.9l10 -3.5l12 -4.7l10 -4.5l8 -4.1l8 -4.7l6 -4l8 -6l10 -8.1l10 -8.9l4 -4.1l4 -4.7l4 -5.8l12 -20.2l18 -27.8l8 -11.2l8 -9.4l4 -4l4 -3.4l4 -2.7l4 -2l4 -1.3l4 -0.4l4 0.4l4 0.9l6 2.3l4 2.7l4 4.1l4 5.5l6 10.6l6 12.2l6 13.5l4 10l8 22.2l6 18.8l8 28.2l12 45.1l10 34.5l10 40.2l10 45.2l6 21.9l2 5.8l4 9.7l4 7.8l4 6.5l4 5.5l4 4.5l2 1.6l2 1.1l2 0.5l2 -0.1l2 -0.6l4 -2.4l6 -5.7l4 -5.2l6 -10.6l16 -33.1l8 -14.1l14 -22.1l6 -7.8l6 -6.6l20 -19.7l6 -5.1l4 -2.8l8 -4.8l26 -13.9l8 -4l6 -2.6l10 -3.5l10 -2.9l28 -6.7l16 -2.9l20 -2.1l34 -2.8l56 -2.7l72 -2l61.5 -0.9" stroke="#2f5a2f"/>
<path d="M159.5 1012.3l58 -0.5l66 -1.1l64 -2.3l42 -2.2l42 -3.8l20 -2.3l20 -2.8l16 -2.6l16 -3.1l12 -2.9l10 -3l10 -3.5l12 -4.8l10 -4.6l8 -4.2l8 -4.9l6 -4.2l8 -6.3l10 -8.5l10 -9.4l4 -4.4l4 -5.1l4 -6.3l10 -17.8l20 -32.5l8 -11.7l8 -9.8l4 -4.2l4 -3.5l4 -2.7l4 -2.1l4 -1.3l4 -0.3l4 0.5l4 1l6 2.6l4 3l4 4.6l4 6.2l6 11.5l6 13l4 9.5l6 16l6 17.8l6 20.1l8 30.2l10 40.1l10 36.6l10 44.4l12 60.4l4 16.3l2 6.9l2 6.2l4 10.6l6 12.2l4 6.4l4 5.2l2 1.9l2 1.3l2 0.6l2 -0.1l2 -0.7l4 -2.7l6 -6.3l4 -5.8l6 -12l14 -33.4l6 -12.8l8 -15.1l8 -14.1l4 -6.4l6 -8.1l6 -6.9l16 -17l6 -5.9l4 -3.3l6 -4.1l6 -3.6l24 -13.3l10 -5l8 -3.3l10 -3.4l22 -5.9l14 -3.2l10 -1.9l20 -2.4l36 -3l56 -2.7l72 -2l63.5 -1" stroke="#a8d0a8"/>
<path d="M159.5 1012.4l66 -0.5l66 -1l64 -2l38 -1.9l46 -4l22 -2.5l20 -2.8l16 -2.7l16 -3.3l10 -2.6l10 -3.2l12 -4.5l10 -4.2l10 -4.9l8 -4.6l6 -4l8 -6.1l18 -15.9l10 -10.5l6 -8l4 -6.9l10 -19.4l20 -35.6l10 -15.9l8 -10.4l4 -4.4l4 -3.5l4 -2.7l4 -2l4 -1.1l4 -0l4 0.7l4 1.2l4 1.9l4 3.2l4 5.1l4 6.9l6 12.7l6 14.4l6 16.7l6 19l4 14.1l6 24l12 53.9l8 33.3l4 18.2l8 42.8l10 59.9l4 20.9l4 17.5l6 20.2l2 5.5l4 9.2l4 7.5l4 6.1l2 2.2l2 1.5l2 0.7l2 -0l2 -0.7l4 -3l6 -7.1l4 -6.5l2 -4.1l4 -9.7l14 -38.9l6 -14.7l8 -17.3l8 -16.1l4 -7.2l6 -9l6 -7.5l18 -20.7l4 -4.2l4 -3.7l6 -4.5l8 -5.1l20 -11.6l10 -5.3l8 -3.6l8 -3l10 -3.2l12 -3.2l24 -5.4l10 -1.6l12 -1.3l38 -3.2l54 -2.7l72 -2.1l65.5 -1" stroke="#70c8c8"/>
<path d="M159.5 1012.4l82 -0.6l64 -0.9l58 -1.6l34 -1.7l50 -4.2l22 -2.5l20 -2.7l16 -2.7l14 -2.9l10 -2.6l12 -4l12 -4.7l8 -3.5l10 -5.1l8 -4.8l6 -4.2l8 -6.4l10 -9l10 -9.7l8 -9l6 -8.5l4 -7.3l10 -21l22 -42.5l8 -13.8l8 -11.6l4 -4.9l4 -4.1l4 -3.1l4 -2.4l4 -1.5l4 -0.3l4 0.6l4 1.2l4 1.9l4 3.3l4 5.6l4 7.7l6 14l4 10.5l4 11.8l6 20.3l6 23.7l4 18.2l12 61.7l8 39l6 34.9l14 91.2l4 22.4l4 18.6l2 7.9l4 13.4l2 5.7l4 9.7l4 8l4 6.5l2 2.4l2 1.6l2 0.8l2 -0l2 -0.7l4 -3.1l6 -7.5l4 -6.9l2 -4.3l4 -10.3l14 -41.4l6 -15.7l8 -18.3l8 -17l4 -7.6l6 -9.4l6 -7.8l18 -21.5l4 -4.4l4 -3.8l6 -4.7l8 -5.3l18 -10.7l10 -5.5l8 -3.8l8 -3.1l10 -3.4l10 -2.9l14 -3.5l12 -2.6l10 -1.7l12 -1.4l40 -3.4l52 -2.6l74 -2.1l65.5 -1" stroke="#c040c0"/>
<path d="M159.5 1012.4l110 -0.8l50 -0.7l54 -1.4l28 -1.5l52 -4.3l22 -2.4l20 -2.7l16 -2.7l14 -2.9l10 -2.8l12 -4.2l12 -4.8l8 -3.7l10 -5.4l8 -5.1l6 -4.5l8 -6.9l12 -11.5l8 -8.3l8 -9.9l6 -9.6l12 -26.1l22 -44.9l8 -14.8l8 -12.5l4 -5.4l4 -4.5l4 -3.5l6 -3.8l2 -0.8l4 -0.7l4 0.4l4 1.1l4 1.8l2 1.4l2 1.9l2 2.6l4 7.2l4 9.2l6 15.9l4 12.2l6 21.4l6 25.5l4 19.8l20 112.4l16 111.3l4 25.1l4 21.3l2 9l4 15.2l2 6.5l4 11l6 13l4 6.8l2 2.5l2 1.7l2 0.8l2 -0l2 -0.7l4 -3.2l6 -7.6l4 -7l2 -4.5l4 -10.6l14 -42.8l6 -16.2l8 -18.9l8 -17.5l4 -7.8l6 -9.7l6 -8l18 -22l4 -4.5l4 -3.9l6 -4.8l6 -4.1l16 -9.7l12 -6.8l8 -3.9l8 -3.3l10 -3.5l10 -3l14 -3.6l12 -2.7l10 -1.8l12 -1.5l42 -3.6l52 -2.6l74 -2.1l65.5 -1" stroke="#2a3ad0"/>
<path d="M159.5 1012.4l112 -0.8l52 -0.7l52 -1.4l28 -1.5l52 -4.2l22 -2.4l20 -2.7l16 -2.7l14 -3l10 -2.9l12 -4.3l12 -4.9l8 -3.8l8 -4.4l8 -5l6 -4.4l8 -6.8l10 -9.5l10 -10.3l8 -9.7l6 -9.2l4 -8l10 -22.3l22 -45.4l8 -14.8l8 -12.4l4 -5.3l4 -4.4l4 -3.4l4 -2.6l4 -1.7l4 -0.4l4 0.6l4 1.2l4 2.1l2 1.7l2 2.3l2 3l4 8l6 15l4 11.4l4 13l4 14.7l6 25.6l4 20l18 102.9l4 25l16 114.6l4 23.9l4 19.8l2 8.3l4 14.1l4 11.4l4 9.3l4 7.8l4 5.8l2 1.8l2 0.9l2 0l2 -0.8l2 -1.4l4 -4.2l4 -5.5l4 -7.2l2 -4.6l4 -10.9l14 -43.9l6 -16.6l6 -14.7l8 -18.2l6 -12.3l4 -6.8l8 -11.1l18 -22.3l4 -4.6l4 -4l6 -4.9l6 -4.1l16 -9.8l10 -5.8l8 -4.1l8 -3.5l10 -3.6l12 -3.7l12 -3.1l14 -3.1l10 -1.8l12 -1.5l42 -3.6l52 -2.6l74 -2.1l65.5 -1" stroke="#1a1a8c"/>
<path d="M159.5 1012.5l176 -1.3l46 -1.1l28 -1.5l54 -4.3l22 -2.4l20 -2.7l16 -2.8l12 -2.7l12 -3.7l12 -4.5l10 -4.2l10 -5l8 -4.7l8 -5.6l8 -6.7l8 -7.6l10 -10.2l8 -9l6 -8l6 -10.1l4 -8.7l8 -19.1l22 -48.4l8 -16.2l8 -13.8l4 -6l4 -5.2l4 -4.1l6 -4.5l4 -1.8l2 -0.4l4 0.1l4 1l4 1.8l2 1.4l2 2.1l2 2.9l4 8.1l4 10.3l4 11.7l4 13.4l4 15.5l4 17.7l4 20.5l6 36.4l16 107.1l14 111l4 26.9l4 22.6l2 9.6l4 16l4 12.8l4 10.5l6 12.6l4 6l2 1.8l2 0.9l2 0l2 -0.8l2 -1.4l4 -4.3l4 -5.7l4 -7.4l2 -4.7l4 -11.2l14 -45.4l6 -17.1l6 -15.1l8 -18.7l6 -12.7l4 -7l6 -8.7l20 -25.4l4 -4.7l4 -4.1l6 -5l6 -4.2l14 -8.7l12 -7l8 -4.1l8 -3.5l10 -3.7l10 -3.2l12 -3.2l14 -3.2l10 -1.9l12 -1.6l42 -3.7l52 -2.6l74 -2.2l67.5 -1" stroke="#c8c060"/>
<path d="M159.5 1012.5l182 -1.1l42 -1l30 -1.6l54 -4.2l24 -2.6l18 -2.5l16 -2.8l12 -2.8l12 -3.8l12 -4.6l10 -4.3l8 -4l8 -4.7l8 -5.5l6 -4.9l8 -7.5l12 -12.4l8 -9l8 -10.8l6 -10.7l12 -29l24 -54.5l8 -16.2l8 -13.6l4 -5.8l4 -4.8l6 -5.2l4 -2.5l2 -0.8l4 -0.5l4 0.6l4 1.4l2 1.1l2 1.7l2 2.4l2 3.4l4 9.3l4 11.4l4 13l4 15.2l4 17.7l4 20.6l6 37.3l14 99.1l4 33l10 90.1l4 32.3l6 40.8l4 21.3l2 9l4 15.5l4 12.3l4 10.1l4 8.3l2 3.1l2 2.2l2 1.1l2 0.1l2 -0.8l2 -1.5l4 -4.7l4 -6.3l4 -8.2l2 -5.2l4 -12.7l14 -51.6l6 -19.5l6 -17l8 -21l6 -14.2l4 -7.8l4 -6.6l4 -5.8l20 -27.5l6 -7l6 -5.4l6 -4.5l20 -13l10 -5.7l8 -3.9l10 -4.1l10 -3.5l12 -3.5l14 -3.4l12 -2.4l12 -1.7l44 -3.9l50 -2.6l74 -2.2l69.5 -1.1" stroke="#111111"/>
</g>
<g fill="none" stroke-width="3.0" stroke-linejoin="round" clip-path="url(#clipBR)">
<path d="M1327 1019.4l46 -1.4l52 -2.6l66 -5.3l90 -6l98 -8.8l16 -0.3l22 0.8l30 2.2l14 1.8l18 3.5l42 9.6l24 6.3l22 6.4l30 10l36 13.2l10 3l8 1.9l16 2.8l14 1.6l20 0.9l22 0.4l12 -0.2l14 -0.8l42 -3.8l78 -10.7l52 -5.9l32 -5.4l14 -1.7l24 -1.6l28 -1.3l84 -3.2l56.5 -1.7" stroke="#6a4848"/>
<path d="M1327 1019l42 -1.5l50 -2.7l74 -6l80 -5.7l28 -2.7l34 -3.9l18 -2.3l42 -6l42 -3.9l8 -0.4l6 0.2l10 0.9l8 1.1l10 1.8l14 3.1l34 8.4l16 4.6l14 4.5l16 5.8l14 5.9l26 12.4l28 14.4l16 7.2l6 2l12 2.7l16 2.4l16 1.2l16 0.5l8 -0.2l10 -0.8l42 -5.2l84 -12.6l54 -6.4l32 -5.4l12 -1.5l24 -1.7l30 -1.4l84 -3.2l56.5 -1.7" stroke="#282828"/>
<path d="M1327 1018.6l48 -1.9l56 -3l82 -6.2l80 -5.4l28 -2.5l36 -4.2l38 -5.5l64 -11.6l34 -7.7l6 -0.9l4 -0.2l6 0.3l8 1.3l8 1.9l8 2.3l24 8.1l10 4l10 4.5l8 4.1l8 4.6l6 3.9l6 4.4l20 16.4l16 15.1l14 12.1l4 2.9l4 2.1l8 3.4l18 6.7l10 2.2l14 1.7l10 0.4l10 -0.9l66 -13.8l52 -9.3l26 -4.1l44 -5.5l30 -5.2l12 -1.6l22 -1.6l32 -1.6l86 -3.2l56.5 -1.7" stroke="#707070"/>
<path d="M1327 1018.3l50 -2.1l58 -3.4l80 -6.2l84 -5.9l36 -3.6l38 -5.2l34 -5.8l32 -6.8l28 -6.6l38 -11.8l8 -1.4l6 0.2l6 0.9l8 1.9l10 3l12 4.2l16 6.7l8 3.9l8 4.5l12 8l6 4.8l4 3.7l18 18.2l12 13.8l10 10.8l6 7.2l2 2.2l4 3.5l20 13.5l6 3.7l4 2.1l6 2.1l10 2.4l8 1.2l6 0.3l6 -0.5l6 -1.3l18 -6.2l34 -10.6l14 -3.7l20 -4.6l34 -6.8l18 -3.3l50 -7l36 -6.2l20 -1.8l34 -1.9l90 -3.4l58.5 -1.8" stroke="#90c8d0"/>
<path d="M1327 1018l52 -2.4l60 -3.8l74 -5.9l90 -6.6l20 -2l22 -2.8l26 -3.9l26 -4.6l14 -2.9l30 -7.2l32 -9.1l36 -14.3l6 -1.6l6 -0.5l8 1l8 1.9l10 3.1l12 4.4l8 3.4l10 4.9l8 4.5l8 5.3l8 6.2l6 5.4l16 18l4 4.8l22 28.7l8 11.4l4 4.2l22 17.8l8 5.5l4 1.8l8 2.5l6 1.4l6 1l4 0.3l4 -0.1l4 -0.6l4 -1.1l6 -2.1l14 -6l34 -12.4l14 -4.2l20 -5l34 -7.3l18 -3.5l14 -2.2l36 -5.1l34 -5.9l20 -2l34 -1.9l90 -3.4l60.5 -1.9" stroke="#3a8080"/>
<path d="M1327 1017.7l44 -2.2l54 -3.5l86 -7l84 -6.4l28 -2.8l30 -4.2l26 -4.6l24 -5.1l12 -3l30 -8.4l24 -8.2l8 -3.1l10 -4.8l20 -10.6l6 -2.8l6 -2l6 -0.5l8 1.1l8 2l12 3.9l10 3.9l10 4.7l10 5.6l8 5.4l6 4.7l6 5.4l4 4.1l8 10l12 16.1l20 29.8l10 17.7l2 3l24 28.3l6 6.1l2 1.6l4 2.5l10 4.3l6 1.7l4 0.7l6 0.1l4 -0.9l4 -1.5l6 -2.9l12 -7.3l22 -11.2l16 -7.4l10 -3.8l16 -5l18 -4.8l30 -7.3l20 -4.1l40 -6.2l34 -6l18 -2l24 -1.5l28 -1.3l82 -3.1l54.5 -1.7" stroke="#8a5a9a"/>
<path d="M1327 1017.4l42 -2.3l52 -3.5l176 -14.3l28 -2.9l32 -4.9l26 -5l24 -5.6l12 -3.3l30 -9.2l24 -9.3l8 -3.6l10 -5.6l20 -12.2l6 -3.2l6 -2.4l4 -0.7l2 -0.1l8 1.1l8 2l14 4.8l10 4.3l10 5.3l8 5l8 6.1l6 5.4l6 6.3l4 5l16 23.8l20 33.3l4 7.8l6 13l2 3.5l8 11.1l10 15.3l8 11.4l4 4.7l2 1.9l4 2.9l6 3.3l4 1.8l4 1.4l4 1l6 0.3l4 -0.9l4 -1.7l6 -3.5l14 -10.1l22 -13.4l14 -7.7l10 -4.5l14 -5.1l18 -5.5l32 -8.6l20 -4.5l42 -7l32 -5.7l10 -1.3l10 -0.9l22 -1.4l30 -1.4l82 -3.1l54.5 -1.7" stroke="#3a2a4a"/>
<path d="M1327 1017.1l40 -2.3l48 -3.4l188 -15.7l28 -3.1l34 -5.7l26 -5.6l22 -5.7l12 -3.6l32 -11l22 -9.9l8 -4.1l12 -7.8l20 -14.4l8 -4.9l6 -2.3l4 -0.4l4 0.4l8 1.8l10 3.3l10 4.1l8 4.1l8 4.9l8 5.9l8 7.4l6 6.7l6 8.1l4 6.6l12 21.4l16 30.2l4 8.6l8 21.7l2 4.6l8 15.4l14 31.1l6 11.1l2 2.8l4 4.3l8 6.2l4 2.3l4 1.7l4 0.9l2 0l2 -0.3l4 -1.5l6 -4.1l4 -3.4l12 -12.1l20 -16.5l14 -10.7l10 -6.4l14 -6.8l18 -7l32 -10.4l20 -5.6l18 -3.9l56 -10.2l12 -1.8l12 -1.2l22 -1.5l30 -1.4l84 -3.2l54.5 -1.7" stroke="#8a8a40"/>
<path d="M1327 1016.9l38 -2.3l48 -3.5l194 -16.5l14 -1.4l14 -1.9l18 -3l16 -3l26 -5.9l22 -6l12 -3.9l32 -11.6l24 -11.6l8 -4.6l12 -8.6l20 -15.5l8 -5.1l4 -1.7l2 -0.5l4 -0.2l4 0.5l8 2l12 4.4l8 3.7l8 4.7l8 5.6l6 5.1l8 8.4l6 7.7l4 6.3l4 7.4l16 31.6l12 25.1l4 10.8l6 18.9l2 5.2l8 18.3l10 27.5l4 10.2l4 9.1l2 3.8l4 5.7l4 4.2l4 3.6l4 2.9l4 2.1l4 1.1l2 0.1l2 -0.3l4 -1.7l6 -4.7l4 -4l12 -14.2l22 -21.1l14 -12.2l6 -4.5l4 -2.6l6 -3.4l8 -4l16 -6.9l32 -11.5l20 -6.2l20 -4.7l50 -9.5l14 -2.3l14 -1.6l22 -1.5l30 -1.4l84 -3.2l56.5 -1.7" stroke="#3a8a3a"/>
<path d="M1327 1016l36 -2.6l46 -3.8l78 -7.4l78 -6.8l56 -5.3l16 -1.9l14 -2.3l22 -4.4l16 -3.7l24 -6.6l22 -7.4l10 -3.9l26 -11.2l10 -4.8l22 -13.6l6 -4.1l4 -3.2l12 -11.2l20 -20.5l8 -7.1l4 -2.7l4 -1.6l4 -0.3l4 0.7l8 2.7l8 3.8l6 3.8l6 4.8l6 5.8l6 7.4l6 9.5l4 7.8l2 4.6l4 10.8l16 48.2l6 19.4l4 16.3l6 27.8l8 27.9l12 49.2l6 20.9l4 9.7l4 6.8l4 5.5l4 4.5l2 1.8l4 2.4l2 0.5l2 -0l2 -0.6l2 -1.1l2 -1.6l4 -4.3l6 -8.1l8 -13.5l4 -6l20 -26.1l6 -7.6l8 -9.3l6 -6.3l4 -3.7l6 -4.7l6 -4.1l8 -4.8l10 -5.4l12 -5.7l18 -7.9l12 -5l10 -3.8l18 -5.5l22 -5.1l38 -7.6l12 -1.9l10 -1.2l22 -1.7l32 -1.6l86 -3.2l56.5 -1.7" stroke="#6a4040"/>
<path d="M1327 1015.6l34 -2.6l46 -4l78 -7.8l80 -7.2l60 -5.9l16 -2.1l16 -2.8l20 -4.3l18 -4.6l24 -7.3l22 -8.1l10 -4.3l26 -12.3l10 -5.4l22 -15.3l6 -4.6l4 -3.6l12 -12.6l22 -25.4l8 -7.8l4 -2.7l4 -1.5l4 -0.1l4 0.9l8 3.2l8 4.6l6 4.9l6 6.2l6 7.9l4 6.7l4 8.1l4 9.9l4 12.5l12 41.2l8 29.9l4 20.2l6 35.3l8 38.5l10 58.4l4 20.4l2 8.5l4 12.7l2 4.8l4 8l4 6.3l2 2.4l2 1.9l2 1.2l2 0.5l2 -0.2l2 -1l2 -1.7l2 -2.3l4 -5.7l4 -6.7l10 -21l6 -10.8l24 -39l10 -14.4l8 -9.6l6 -5.8l6 -5l8 -5.9l10 -6.5l10 -5.8l14 -7.4l14 -7.1l12 -5.6l10 -4l10 -3.4l22 -5.9l18 -4.1l18 -3.6l14 -2.4l12 -1.5l22 -1.8l32 -1.6l86 -3.3l58.5 -1.8" stroke="#8050c8"/>
<path d="M1327 1015.2l32 -2.6l48 -4.4l78 -8l84 -7.6l62 -6.3l16 -2.2l16 -3l20 -4.5l18 -4.8l24 -7.7l22 -8.6l14 -6.5l24 -12l8 -4.5l6 -4.1l18 -13.6l6 -5l4 -3.9l12 -13.6l22 -27.4l8 -8.5l4 -3.1l4 -1.9l4 -0.3l4 0.9l8 3.6l6 3.9l4 3.5l6 6.8l4 5.6l4 7l4 8.7l4 10.9l2 6.7l4 15.7l12 50.2l4 18.5l4 23.1l6 38.7l8 41.2l10 61l4 20.9l2 8.6l4 12.8l4 9.1l4 7.3l4 5.3l2 1.7l2 1l2 0.3l2 -0.5l2 -1.3l2 -2l4 -5.5l6 -10.4l8 -17.6l4 -8.1l22 -37.5l6 -9.7l8 -11.9l6 -8l4 -4.6l6 -5.8l6 -5.1l8 -6l10 -6.7l10 -5.9l16 -8.6l14 -7.2l10 -4.7l10 -4.1l10 -3.5l10 -2.9l12 -3.1l16 -3.7l16 -3.3l16 -2.8l12 -1.6l22 -1.8l32 -1.7l88 -3.3l58.5 -1.8" stroke="#2a2a8a"/>
<path d="M1327 1015l78 -6.9l82 -8.6l82 -7.5l64 -6.6l16 -2.2l16 -3l22 -5.1l18 -5l24 -7.9l12 -4.6l12 -5.1l10 -4.8l26 -13.4l10 -6l22 -17l6 -5.2l4 -4l12 -14l24 -31l4 -4.5l4 -3.9l4 -2.9l4 -1.5l2 -0.1l4 0.8l4 1.6l4 2.1l6 4.3l4 4l6 7.8l4 6.7l4 8.5l4 10.7l4 13.6l12 52.8l6 29.6l4 26l6 44.2l8 50.2l10 74l4 23.4l2 8.8l2 7.1l2 5.9l4 9.7l4 7.3l2 2.5l2 1.7l2 0.8l2 -0.2l2 -1.2l2 -2l2 -2.7l4 -6.7l6 -12.4l8 -20.2l6 -12.8l24 -45.6l10 -16.9l8 -11.4l6 -6.8l6 -5.8l8 -6.8l10 -7.5l10 -6.7l14 -8.4l16 -9.2l12 -6.2l10 -4.5l10 -3.8l10 -3.2l14 -3.8l16 -3.9l14 -2.9l16 -2.9l14 -1.9l22 -1.8l32 -1.7l88 -3.3l58.5 -1.8" stroke="#2a50c8"/>
<path d="M1327 1014.5l74 -6.9l86 -9.4l86 -8.1l68 -7.4l16 -2.4l18 -3.8l22 -5.6l18 -5.5l24 -8.7l12 -5.1l12 -5.6l10 -5.3l26 -14.6l6 -3.8l4 -2.9l22 -18.7l6 -5.7l4 -4.4l6 -7.4l8 -10.8l22 -31.5l8 -9.6l4 -3.5l4 -2l2 -0.3l4 0.7l6 3.1l4 3.1l4 4.3l4 5.8l4 7.5l4 9.8l4 12.8l2 7.9l2 9.3l4 22.1l6 35.2l4 25.8l2 15.2l8 71.2l6 45.6l10 90.2l4 29.1l2 10.9l2 8.7l2 7.2l4 11.5l2 4.5l2 3.6l2 2.5l2 1.3l2 0.1l2 -1l2 -2l2 -2.9l4 -7.4l6 -13.7l8 -22.7l4 -10.1l22 -47.8l6 -12.4l8 -15.2l6 -10.1l4 -5.8l6 -7.4l6 -6.3l8 -7.4l10 -8.3l10 -7.3l12 -8l16 -10.1l12 -7l10 -5l10 -4.3l10 -3.6l14 -4.2l14 -3.7l12 -2.7l20 -3.8l14 -2.1l20 -1.9l34 -1.9l90 -3.4l60.5 -1.9" stroke="#a8d888"/>
<path d="M1327 1013.9l78 -8l88 -10.2l86 -8.4l64 -7.4l16 -2.5l18 -4l22 -6l20 -6.6l14 -5.3l10 -4.2l12 -5.5l12 -6l10 -5.7l26 -16l6 -4.1l4 -3.1l6 -5.4l18 -17.4l6 -6.5l4 -5l12 -17.4l22 -35.4l6 -8.7l4 -4.9l4 -3.7l2 -1.3l2 -0.8l2 -0.2l2 0.3l2 0.7l4 2.3l4 3.4l4 5l4 7l4 9.4l2 6l4 15.5l2 10l4 25.2l10 74l2 17.8l6 61.8l8 67.8l8 77l4 33.3l2 13.2l2 10.6l2 8.6l4 13.4l4 9.7l2 3.3l2 2.1l2 0.8l2 -0.5l2 -1.6l2 -2.6l2 -3.3l4 -8l4 -9.3l10 -28.8l6 -14.7l24 -52.9l10 -19.6l4 -7l4 -6.2l6 -7.8l8 -8.7l8 -7.6l10 -8.4l10 -7.4l14 -9.5l14 -9l12 -7.1l10 -5.1l10 -4.3l10 -3.7l14 -4.3l14 -3.7l12 -2.7l20 -3.8l14 -2.1l20 -1.9l34 -1.9l90 -3.4l60.5 -1.9" stroke="#c86040"/>
<path d="M1327 1013.7l78 -8.1l88 -10.3l88 -8.6l64 -7.4l18 -2.9l18 -4.2l22 -6.2l20 -6.8l14 -5.4l10 -4.3l12 -5.6l12 -6.2l10 -5.9l26 -16.3l6 -4.2l4 -3.3l22 -21.3l6 -6.4l4 -4.9l6 -8.4l8 -12.2l22 -36.1l6 -8.8l4 -5l4 -3.8l2 -1.3l2 -0.8l2 -0.2l2 0.3l2 0.8l4 2.6l4 4l4 6.1l2 4l4 10.2l2 6.7l4 17.7l4 25.4l10 81l8 84.7l8 70.3l8 79.1l4 33.6l2 13.2l2 10.5l2 8.5l4 13.4l4 9.6l2 3.1l2 1.8l2 0.5l2 -0.8l2 -1.9l2 -2.8l4 -7.5l6 -14l10 -29.3l6 -14.7l24 -53.7l10 -19.7l4 -7l4 -6.2l6 -7.8l6 -6.7l8 -7.8l10 -8.7l8 -6.2l12 -8.4l18 -11.9l12 -7.3l10 -5.3l10 -4.5l10 -3.8l14 -4.4l14 -3.8l12 -2.8l20 -3.9l16 -2.4l20 -1.9l36 -2l90 -3.4l58.5 -1.8" stroke="#6a6a20"/>
<path d="M1327 1013.1l80 -8.9l82 -10.3l88 -9l72 -8.8l18 -3.2l18 -4.5l22 -6.6l20 -7.3l14 -5.9l12 -5.5l12 -5.9l10 -5.4l10 -6.1l24 -16l6 -4.3l6 -5l6 -6l18 -19.4l6 -7.2l4 -5.5l6 -9.3l8 -13.5l22 -39.8l6 -9.7l4 -5.5l4 -4.2l2 -1.5l2 -1l2 -0.4l2 0.2l2 0.7l2 1.2l2 1.7l2 2.3l2 3l2 3.9l2 4.9l2 6l2 7.4l2 9.2l2 11.4l4 30.9l8 80.6l8 102.6l8 86.9l6 72.2l4 41.3l2 16l2 12.7l4 18.6l4 13l2 4.4l2 2.8l2 1.1l2 -0.4l2 -1.8l2 -2.9l4 -8l6 -15.2l10 -32.4l4 -11.4l22 -55.1l6 -14.2l8 -17.4l6 -11.6l4 -6.6l6 -8.4l6 -7.2l8 -8.5l10 -9.4l8 -6.7l12 -9.1l18 -12.9l12 -7.9l10 -5.7l12 -5.7l10 -4l14 -4.6l12 -3.4l12 -2.9l20 -3.9l16 -2.5l20 -2l36 -2l90 -3.4l60.5 -1.9" stroke="#111111"/>
</g>
<g stroke="#e4000c" stroke-opacity="0.62" stroke-width="11" stroke-linecap="round" fill="none"><path d="M695.5 148.3 L577 424"/><path d="M575 372 L577 424"/><path d="M616 388 L577 424"/></g>
<g stroke="#e4000c" stroke-opacity="0.62" stroke-width="11" stroke-linecap="round" fill="none"><path d="M1905 148.3 L1787.6 421"/><path d="M1785.6 372 L1787.6 421"/><path d="M1826.8 387 L1787.6 421"/></g>
<g stroke="#e4000c" stroke-opacity="0.62" stroke-width="11" stroke-linecap="round" fill="none"><path d="M793 818.3 L674.4 1092"/><path d="M672.4 1042 L674.4 1092"/><path d="M713.5 1057 L674.4 1092"/></g>
<g stroke="#e4000c" stroke-opacity="0.62" stroke-width="11" stroke-linecap="round" fill="none"><path d="M1971 825.4 L1852.5 1100"/><path d="M1850.5 1048 L1852.5 1100"/><path d="M1892.7 1064 L1852.5 1100"/></g>
<rect x="154" y="56" width="1131.5" height="647" fill="none" stroke="#5e5e5e" stroke-width="4.4"/>
<path d="M191.7 703v-6.5M191.7 56v6.5M229.4 703v-6.5M229.4 56v6.5M267.1 703v-6.5M267.1 56v6.5M304.9 703v-6.5M304.9 56v6.5M342.6 703v-10M342.6 56v10M380.3 703v-6.5M380.3 56v6.5M418 703v-6.5M418 56v6.5M455.7 703v-6.5M455.7 56v6.5M493.4 703v-6.5M493.4 56v6.5M531.2 703v-10M531.2 56v10M568.9 703v-6.5M568.9 56v6.5M606.6 703v-6.5M606.6 56v6.5M644.3 703v-6.5M644.3 56v6.5M682 703v-6.5M682 56v6.5M719.8 703v-10M719.8 56v10M757.5 703v-6.5M757.5 56v6.5M795.2 703v-6.5M795.2 56v6.5M832.9 703v-6.5M832.9 56v6.5M870.6 703v-6.5M870.6 56v6.5M908.3 703v-10M908.3 56v10M946 703v-6.5M946 56v6.5M983.8 703v-6.5M983.8 56v6.5M1021.5 703v-6.5M1021.5 56v6.5M1059.2 703v-6.5M1059.2 56v6.5M1096.9 703v-10M1096.9 56v10M1134.6 703v-6.5M1134.6 56v6.5M1172.3 703v-6.5M1172.3 56v6.5M1210.1 703v-6.5M1210.1 56v6.5M1247.8 703v-6.5M1247.8 56v6.5M154 136.9h10.5M1285.5 136.9h-10.5M154 217.8h10.5M1285.5 217.8h-10.5M154 298.6h10.5M1285.5 298.6h-10.5M154 379.5h10.5M1285.5 379.5h-10.5M154 460.4h10.5M1285.5 460.4h-10.5M154 541.2h10.5M1285.5 541.2h-10.5M154 622.1h10.5M1285.5 622.1h-10.5" stroke="#666666" stroke-width="2.2" fill="none"/>
<rect x="1327" y="57" width="1131" height="647.5" fill="none" stroke="#5e5e5e" stroke-width="4.4"/>
<path d="M1364.7 704.5v-6.5M1364.7 57v6.5M1402.4 704.5v-6.5M1402.4 57v6.5M1440.1 704.5v-6.5M1440.1 57v6.5M1477.8 704.5v-6.5M1477.8 57v6.5M1515.5 704.5v-10M1515.5 57v10M1553.2 704.5v-6.5M1553.2 57v6.5M1590.9 704.5v-6.5M1590.9 57v6.5M1628.6 704.5v-6.5M1628.6 57v6.5M1666.3 704.5v-6.5M1666.3 57v6.5M1704 704.5v-10M1704 57v10M1741.7 704.5v-6.5M1741.7 57v6.5M1779.4 704.5v-6.5M1779.4 57v6.5M1817.1 704.5v-6.5M1817.1 57v6.5M1854.8 704.5v-6.5M1854.8 57v6.5M1892.5 704.5v-10M1892.5 57v10M1930.2 704.5v-6.5M1930.2 57v6.5M1967.9 704.5v-6.5M1967.9 57v6.5M2005.6 704.5v-6.5M2005.6 57v6.5M2043.3 704.5v-6.5M2043.3 57v6.5M2081 704.5v-10M2081 57v10M2118.7 704.5v-6.5M2118.7 57v6.5M2156.4 704.5v-6.5M2156.4 57v6.5M2194.1 704.5v-6.5M2194.1 57v6.5M2231.8 704.5v-6.5M2231.8 57v6.5M2269.5 704.5v-10M2269.5 57v10M2307.2 704.5v-6.5M2307.2 57v6.5M2344.9 704.5v-6.5M2344.9 57v6.5M2382.6 704.5v-6.5M2382.6 57v6.5M2420.3 704.5v-6.5M2420.3 57v6.5M1327 149.5h10.5M2458 149.5h-10.5M1327 242h10.5M2458 242h-10.5M1327 334.5h10.5M2458 334.5h-10.5M1327 427h10.5M2458 427h-10.5M1327 519.5h10.5M2458 519.5h-10.5M1327 612h10.5M2458 612h-10.5" stroke="#666666" stroke-width="2.2" fill="none"/>
<rect x="159.5" y="726.5" width="1131.5" height="646.5" fill="none" stroke="#5e5e5e" stroke-width="4.4"/>
<path d="M197.2 1373v-6.5M197.2 726.5v6.5M234.9 1373v-6.5M234.9 726.5v6.5M272.6 1373v-6.5M272.6 726.5v6.5M310.4 1373v-6.5M310.4 726.5v6.5M348.1 1373v-10M348.1 726.5v10M385.8 1373v-6.5M385.8 726.5v6.5M423.5 1373v-6.5M423.5 726.5v6.5M461.2 1373v-6.5M461.2 726.5v6.5M498.9 1373v-6.5M498.9 726.5v6.5M536.7 1373v-10M536.7 726.5v10M574.4 1373v-6.5M574.4 726.5v6.5M612.1 1373v-6.5M612.1 726.5v6.5M649.8 1373v-6.5M649.8 726.5v6.5M687.5 1373v-6.5M687.5 726.5v6.5M725.2 1373v-10M725.2 726.5v10M763 1373v-6.5M763 726.5v6.5M800.7 1373v-6.5M800.7 726.5v6.5M838.4 1373v-6.5M838.4 726.5v6.5M876.1 1373v-6.5M876.1 726.5v6.5M913.8 1373v-10M913.8 726.5v10M951.5 1373v-6.5M951.5 726.5v6.5M989.3 1373v-6.5M989.3 726.5v6.5M1027 1373v-6.5M1027 726.5v6.5M1064.7 1373v-6.5M1064.7 726.5v6.5M1102.4 1373v-10M1102.4 726.5v10M1140.1 1373v-6.5M1140.1 726.5v6.5M1177.8 1373v-6.5M1177.8 726.5v6.5M1215.6 1373v-6.5M1215.6 726.5v6.5M1253.3 1373v-6.5M1253.3 726.5v6.5M159.5 818.9h10.5M1291 818.9h-10.5M159.5 911.2h10.5M1291 911.2h-10.5M159.5 1003.6h10.5M1291 1003.6h-10.5M159.5 1095.9h10.5M1291 1095.9h-10.5M159.5 1188.3h10.5M1291 1188.3h-10.5M159.5 1280.6h10.5M1291 1280.6h-10.5" stroke="#666666" stroke-width="2.2" fill="none"/>
<rect x="1327.5" y="728" width="1132" height="647" fill="none" stroke="#5e5e5e" stroke-width="4.4"/>
<path d="M1365.2 1375v-6.5M1365.2 728v6.5M1403 1375v-6.5M1403 728v6.5M1440.7 1375v-6.5M1440.7 728v6.5M1478.4 1375v-6.5M1478.4 728v6.5M1516.2 1375v-10M1516.2 728v10M1553.9 1375v-6.5M1553.9 728v6.5M1591.6 1375v-6.5M1591.6 728v6.5M1629.4 1375v-6.5M1629.4 728v6.5M1667.1 1375v-6.5M1667.1 728v6.5M1704.8 1375v-10M1704.8 728v10M1742.6 1375v-6.5M1742.6 728v6.5M1780.3 1375v-6.5M1780.3 728v6.5M1818 1375v-6.5M1818 728v6.5M1855.8 1375v-6.5M1855.8 728v6.5M1893.5 1375v-10M1893.5 728v10M1931.2 1375v-6.5M1931.2 728v6.5M1969 1375v-6.5M1969 728v6.5M2006.7 1375v-6.5M2006.7 728v6.5M2044.4 1375v-6.5M2044.4 728v6.5M2082.2 1375v-10M2082.2 728v10M2119.9 1375v-6.5M2119.9 728v6.5M2157.6 1375v-6.5M2157.6 728v6.5M2195.4 1375v-6.5M2195.4 728v6.5M2233.1 1375v-6.5M2233.1 728v6.5M2270.8 1375v-10M2270.8 728v10M2308.6 1375v-6.5M2308.6 728v6.5M2346.3 1375v-6.5M2346.3 728v6.5M2384 1375v-6.5M2384 728v6.5M2421.8 1375v-6.5M2421.8 728v6.5M1327.5 820.4h10.5M2459.5 820.4h-10.5M1327.5 912.9h10.5M2459.5 912.9h-10.5M1327.5 1005.3h10.5M2459.5 1005.3h-10.5M1327.5 1097.7h10.5M2459.5 1097.7h-10.5M1327.5 1190.1h10.5M2459.5 1190.1h-10.5M1327.5 1282.6h10.5M2459.5 1282.6h-10.5" stroke="#666666" stroke-width="2.2" fill="none"/>
<text transform="translate(94.5 616) rotate(-90)" font-family="'Liberation Serif','Times New Roman',serif" font-weight="bold" font-size="79.5">Intensity (a. u.)</text>
<text transform="translate(98.8 1297) rotate(-90)" font-family="'Liberation Serif','Times New Roman',serif" font-weight="bold" font-size="79.5">Intensity (a. u.)</text>
<text x="355.7" y="1545.5" textLength="756.7" lengthAdjust="spacingAndGlyphs" font-family="'Liberation Serif','Times New Roman',serif" font-weight="bold" font-size="79.5">Magnetic Field / B (G)</text>
<text x="1525.4" y="1547" textLength="756.7" lengthAdjust="spacingAndGlyphs" font-family="'Liberation Serif','Times New Roman',serif" font-weight="bold" font-size="79.5">Magnetic Field / B (G)</text>
<text transform="translate(159.5 1438.3) scale(0.956 1)" text-anchor="middle" font-family="'Liberation Sans',Arial,sans-serif" font-size="48">0</text>
<text transform="translate(348.1 1438.3) scale(0.956 1)" text-anchor="middle" font-family="'Liberation Sans',Arial,sans-serif" font-size="48">1000</text>
<text transform="translate(536.7 1438.3) scale(0.956 1)" text-anchor="middle" font-family="'Liberation Sans',Arial,sans-serif" font-size="48">2000</text>
<text transform="translate(725.2 1438.3) scale(0.956 1)" text-anchor="middle" font-family="'Liberation Sans',Arial,sans-serif" font-size="48">3000</text>
<text transform="translate(913.8 1438.3) scale(0.956 1)" text-anchor="middle" font-family="'Liberation Sans',Arial,sans-serif" font-size="48">4000</text>
<text transform="translate(1102.4 1438.3) scale(0.956 1)" text-anchor="middle" font-family="'Liberation Sans',Arial,sans-serif" font-size="48">5000</text>
<text transform="translate(1327.5 1438.3) scale(0.956 1)" text-anchor="middle" font-family="'Liberation Sans',Arial,sans-serif" font-size="48">0</text>
<text transform="translate(1516.2 1438.3) scale(0.956 1)" text-anchor="middle" font-family="'Liberation Sans',Arial,sans-serif" font-size="48">1000</text>
<text transform="translate(1704.8 1438.3) scale(0.956 1)" text-anchor="middle" font-family="'Liberation Sans',Arial,sans-serif" font-size="48">2000</text>
<text transform="translate(1893.5 1438.3) scale(0.956 1)" text-anchor="middle" font-family="'Liberation Sans',Arial,sans-serif" font-size="48">3000</text>
<text transform="translate(2082.2 1438.3) scale(0.956 1)" text-anchor="middle" font-family="'Liberation Sans',Arial,sans-serif" font-size="48">4000</text>
<text transform="translate(2270.8 1438.3) scale(0.956 1)" text-anchor="middle" font-family="'Liberation Sans',Arial,sans-serif" font-size="48">5000</text>
<text x="725" y="146.4" font-family="'Liberation Serif','Times New Roman',serif" font-weight="bold" font-size="69.5"><tspan font-style="italic">γ</tspan>-Fe<tspan font-size="44" dy="22">2</tspan><tspan dy="-22">O</tspan><tspan font-size="44" dy="22">3</tspan><tspan dy="-22"> Aldrich</tspan></text>
<text x="1972.4" y="168" font-family="'Liberation Serif','Times New Roman',serif" font-weight="bold" font-size="69.5"><tspan font-style="italic">γ</tspan>-Fe<tspan font-size="44" dy="22">2</tspan><tspan dy="-22">O</tspan><tspan font-size="44" dy="22">3</tspan><tspan dy="-22"> Iolitec</tspan></text>
<text x="1082" y="818" textLength="145.6" lengthAdjust="spacingAndGlyphs" font-family="'Liberation Serif','Times New Roman',serif" font-weight="bold" font-size="69.5">P520</text>
<text x="2242.5" y="819.8" textLength="144.2" lengthAdjust="spacingAndGlyphs" font-family="'Liberation Serif','Times New Roman',serif" font-weight="bold" font-size="69.5">P200</text>
</svg></div></body></html>
